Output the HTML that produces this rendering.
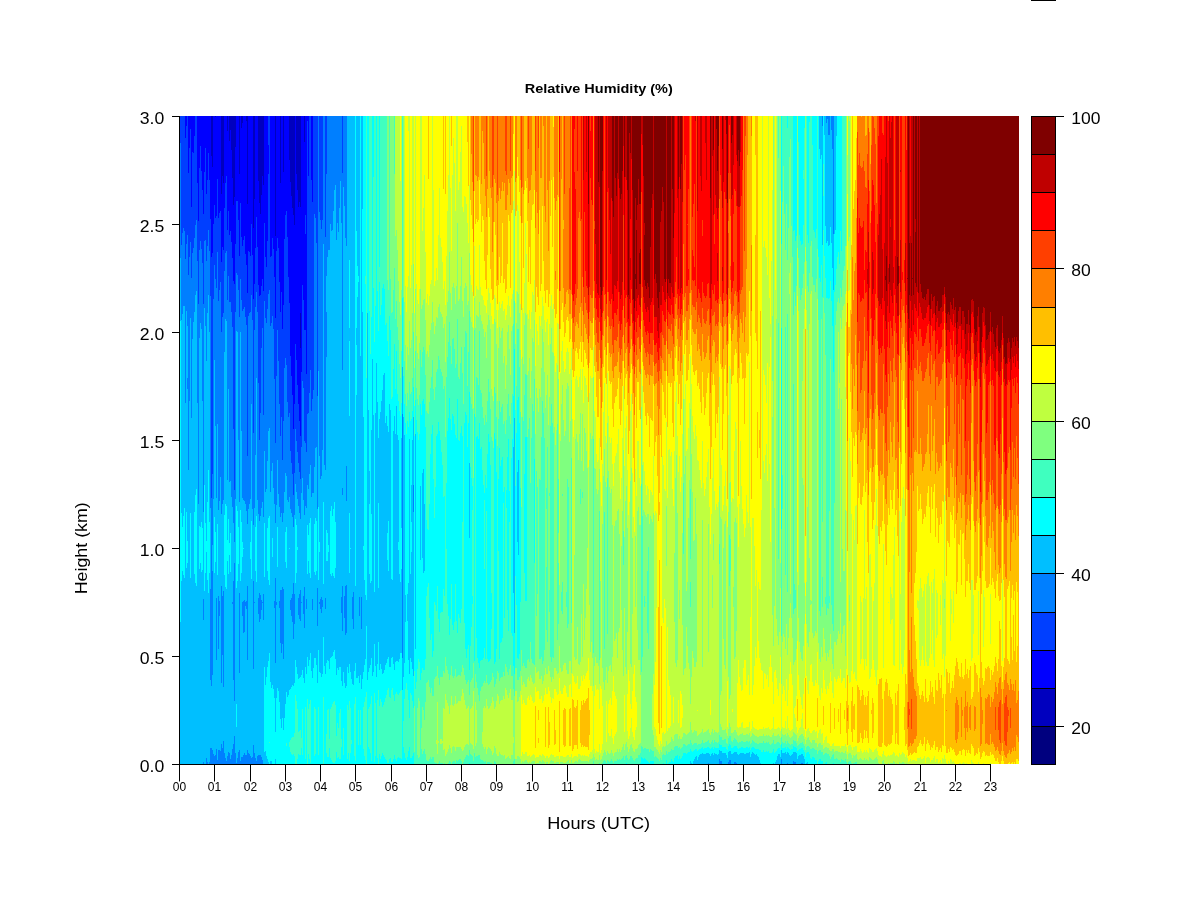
<!DOCTYPE html>
<html><head><meta charset="utf-8"><title>Relative Humidity (%)</title>
<style>
html,body{margin:0;padding:0;background:#fff;}
svg{display:block;}
text{font-family:"Liberation Sans",Arial,Helvetica,sans-serif;fill:#000;}
</style></head><body>
<svg width="1200" height="900" viewBox="0 0 1200 900">
<rect width="1200" height="900" fill="#fff"/>
<g fill="none" stroke-width="1" shape-rendering="crispEdges">
<path stroke="#0000BF" d="M211.5 116V156M212.5 116V167M215.5 116V117M221.5 116V194M222.5 116V176M223.5 116V183M227.5 116V131M229.5 116V141M230.5 116V130M231.5 116V150M232.5 116V178M233.5 116V205M234.5 116V197M235.5 116V147M239.5 116V174M241.5 116V128M242.5 116V123M246.5 116V121M247.5 116V204M253.5 116V228M254.5 116V199M258.5 116V181M259.5 116V203M260.5 116V214M261.5 116V195M262.5 116V176M263.5 116V185M275.5 116V236M280.5 116V183M283.5 116V172M289.5 116V160M290.5 116V182M291.5 116V196M292.5 116V208M293.5 116V215M294.5 116V225M296.5 116V174M297.5 116V190M298.5 116V207M299.5 116V202M300.5 116V207M300.5 313V348M304.5 116V142"/>
<path stroke="#0000FF" d="M185.5 116V138M186.5 116V126M188.5 116V173M189.5 116V148M190.5 116V129M191.5 116V207M192.5 116V152M193.5 116V153M194.5 116V136M197.5 116V183M198.5 116V221M199.5 116V168M200.5 116V146M201.5 116V171M202.5 116V190M203.5 116V214M204.5 116V172M205.5 116V148M206.5 116V194M207.5 116V180M208.5 116V153M209.5 116V180M210.5 116V219M211.5 156V257M212.5 167V253M213.5 116V224M214.5 116V205M215.5 117V218M216.5 116V216M217.5 116V179M218.5 116V218M219.5 116V213M220.5 116V211M221.5 194V262M222.5 176V247M223.5 183V250M224.5 116V208M225.5 116V183M226.5 116V176M227.5 131V230M228.5 116V211M229.5 141V235M230.5 130V231M231.5 150V242M232.5 178V258M233.5 205V281M234.5 197V284M235.5 147V244M236.5 116V201M237.5 116V201M238.5 116V220M239.5 174V256M240.5 116V203M241.5 128V237M242.5 123V246M243.5 116V240M244.5 116V236M245.5 116V254M246.5 121V265M247.5 204V293M248.5 116V251M249.5 116V252M250.5 116V256M251.5 116V224M252.5 116V255M253.5 228V299M254.5 199V284M255.5 116V248M256.5 116V217M257.5 116V247M258.5 181V285M259.5 203V296M260.5 214V295M261.5 195V286M262.5 176V279M263.5 185V291M264.5 116V223M265.5 116V257M266.5 116V267M267.5 116V241M268.5 145V174M270.5 116V257M271.5 116V256M272.5 116V238M273.5 116V249M274.5 116V277M275.5 236V318M276.5 116V251M277.5 116V238M278.5 116V248M279.5 116V282M280.5 183V312M281.5 116V292M282.5 116V329M283.5 172V305M284.5 116V239M285.5 116V215M286.5 116V211M287.5 116V237M288.5 116V277M289.5 160V303M290.5 182V356M291.5 196V376M292.5 208V395M293.5 215V429M294.5 225V404M295.5 116V344M296.5 174V360M297.5 190V385M298.5 207V404M299.5 202V421M300.5 207V313M300.5 348V436M301.5 116V372M302.5 116V285M303.5 116V300M304.5 142V330M305.5 116V215M305.5 234V330M306.5 116V374M307.5 116V121M308.5 116V176M311.5 116V180M312.5 116V202"/>
<path stroke="#003FFF" d="M180.5 116V143M181.5 116V245M182.5 116V233M183.5 116V228M184.5 116V231M185.5 138V259M186.5 126V244M187.5 116V235M188.5 173V275M189.5 148V257M190.5 129V242M191.5 207V278M192.5 152V253M193.5 153V248M194.5 136V238M195.5 116V225M196.5 116V220M197.5 183V261M198.5 221V304M199.5 168V250M200.5 146V241M201.5 171V249M202.5 190V263M203.5 214V304M204.5 172V241M205.5 148V240M206.5 194V261M207.5 180V246M208.5 153V230M209.5 180V251M210.5 219V296M211.5 257V498M212.5 253V474M213.5 224V299M214.5 205V265M215.5 218V279M216.5 216V288M217.5 179V252M218.5 218V301M219.5 213V290M220.5 211V282M221.5 262V332M222.5 247V317M223.5 250V313M224.5 208V271M225.5 183V253M226.5 176V251M227.5 230V300M228.5 211V276M229.5 235V302M230.5 231V302M231.5 242V312M232.5 258V327M233.5 281V429M234.5 284V490M235.5 244V312M236.5 201V273M237.5 201V275M238.5 220V290M239.5 256V317M240.5 203V279M241.5 237V300M242.5 246V311M243.5 240V309M244.5 236V307M245.5 254V317M246.5 265V325M247.5 293V456M248.5 251V316M249.5 252V313M250.5 256V312M251.5 224V295M252.5 255V320M253.5 299V433M254.5 284V330M255.5 248V307M256.5 217V292M257.5 247V312M258.5 285V383M259.5 296V440M260.5 295V413M261.5 286V348M262.5 279V328M263.5 291V415M264.5 223V301M265.5 257V318M266.5 267V323M267.5 241V309M268.5 116V145M268.5 174V294M269.5 116V290M270.5 257V326M271.5 256V323M272.5 238V316M273.5 249V329M274.5 277V379M275.5 318V443M276.5 251V376M277.5 238V330M278.5 248V361M279.5 282V404M280.5 312V436M281.5 292V417M282.5 329V460M283.5 305V421M284.5 239V368M285.5 215V358M286.5 211V365M287.5 237V402M288.5 277V417M289.5 303V413M290.5 356V451M291.5 376V463M292.5 395V474M293.5 429V495M294.5 404V473M295.5 344V429M296.5 360V441M297.5 385V452M298.5 404V463M299.5 421V472M300.5 436V479M301.5 372V447M302.5 285V381M303.5 300V388M304.5 330V441M305.5 215V234M305.5 330V443M306.5 374V452M307.5 121V414M308.5 176V413M309.5 116V393M310.5 116V370M311.5 180V411M312.5 202V399M313.5 116V390M314.5 116V214M315.5 116V218M316.5 116V243M317.5 116V396M319.5 116V212M320.5 116V220M321.5 116V229M322.5 116V220M325.5 116V237M326.5 116V174M342.5 116V173"/>
<path stroke="#007FFF" d="M180.5 143V258M181.5 245V320M182.5 233V314M183.5 228V306M184.5 231V306M185.5 259V403M186.5 244V311M187.5 235V326M187.5 378V389M188.5 275V470M189.5 257V401M190.5 242V318M191.5 278V418M192.5 253V339M193.5 248V322M194.5 238V312M195.5 225V295M196.5 220V291M197.5 261V403M198.5 304V504M199.5 250V338M200.5 241V323M201.5 249V329M202.5 263V401M203.5 304V512M203.5 599V620M203.5 762V764M204.5 241V308M205.5 240V326M206.5 261V361M206.5 758V764M207.5 246V313M207.5 762V764M208.5 230V295M209.5 251V332M209.5 762V764M210.5 296V508M210.5 589V680M210.5 748V764M211.5 498V686M211.5 748V764M212.5 474V545M212.5 571V675M212.5 750V764M213.5 299V499M213.5 754V764M214.5 265V360M214.5 756V764M215.5 279V426M215.5 755V764M216.5 288V498M216.5 598V660M216.5 749V764M217.5 252V424M217.5 760V764M218.5 301V510M218.5 596V649M218.5 750V764M219.5 290V501M219.5 601V616M219.5 750V764M220.5 282V477M220.5 751V764M221.5 332V514M221.5 586V683M221.5 744V764M222.5 317V504M222.5 596V655M222.5 748V764M223.5 313V500M223.5 591V687M223.5 741V764M224.5 271V352M224.5 753V764M225.5 253V319M225.5 758V764M226.5 251V321M226.5 761V764M227.5 300V480M227.5 756V764M228.5 276V389M228.5 752V764M229.5 302V482M229.5 753V764M230.5 302V481M230.5 759V764M231.5 312V497M231.5 755V764M232.5 327V507M232.5 602V604M232.5 749V764M233.5 429V523M233.5 581V680M233.5 744V764M234.5 490V542M234.5 563V701M234.5 736V764M235.5 312V499M235.5 753V764M236.5 273V331M236.5 763V764M237.5 275V332M237.5 758V764M238.5 290V440M238.5 752V764M239.5 317V502M239.5 593V673M239.5 750V764M240.5 279V332M240.5 761V764M241.5 300V431M241.5 757V764M242.5 311V498M242.5 602V616M242.5 757V764M243.5 309V500M243.5 601V633M243.5 755V764M244.5 307V501M244.5 600V632M244.5 753V764M245.5 317V504M245.5 602V606M245.5 755V764M246.5 325V511M246.5 601V609M246.5 755V764M247.5 456V524M247.5 586V660M247.5 750V764M248.5 316V509M248.5 753V764M249.5 313V504M249.5 754V764M250.5 312V499M250.5 756V764M251.5 295V404M251.5 758V764M252.5 320V509M252.5 757V764M253.5 433V525M253.5 581V669M253.5 745V764M254.5 330V508M254.5 602V603M254.5 753V764M255.5 307V455M255.5 758V764M256.5 292V378M256.5 761V764M257.5 312V500M257.5 756V764M258.5 383V514M258.5 598V614M258.5 755V764M259.5 440V521M259.5 593V622M259.5 755V764M260.5 413V516M260.5 595V619M260.5 755V764M261.5 348V508M261.5 600V610M261.5 757V764M262.5 328V502M262.5 602V603M262.5 760V764M263.5 415V517M263.5 594V620M264.5 301V451M265.5 318V492M266.5 323V489M267.5 309V461M268.5 294V431M269.5 290V428M270.5 326V492M271.5 323V471M272.5 316V463M273.5 329V488M274.5 379V504M274.5 601V608M275.5 443V523M275.5 578V663M276.5 376V505M276.5 602V605M277.5 330V460M278.5 361V494M279.5 404V507M279.5 601V608M280.5 436V517M280.5 590V643M281.5 417V513M281.5 590V653M282.5 460V522M282.5 587V644M283.5 421V513M283.5 589V659M284.5 368V492M285.5 358V473M286.5 365V476M287.5 402V500M288.5 417V502M289.5 413V497M290.5 451V509M290.5 600V610M291.5 463V513M291.5 598V616M292.5 474V517M292.5 594V622M293.5 495V527M293.5 583V639M294.5 473V515M294.5 594V624M295.5 429V484M296.5 441V492M297.5 452V499M298.5 463V506M298.5 598V615M299.5 472V513M299.5 594V619M300.5 479V519M300.5 590V621M301.5 447V493M301.5 602V603M302.5 381V478M303.5 388V500M303.5 596V614M304.5 441V515M304.5 587V628M305.5 443V506M306.5 452V508M306.5 599V609M307.5 414V485M308.5 413V489M309.5 393V474M310.5 370V465M311.5 411V497M312.5 399V493M312.5 599V610M313.5 390V493M314.5 214V467M315.5 218V448M316.5 243V447M317.5 396V509M317.5 588V626M318.5 116V371M319.5 212V456M319.5 602V604M320.5 220V479M320.5 599V609M321.5 229V476M321.5 597V613M322.5 220V450M322.5 600V607M323.5 116V244M324.5 116V465M325.5 237V470M325.5 598V609M326.5 174V276M326.5 312V357M327.5 116V257M328.5 116V250M329.5 116V250M330.5 116V224M331.5 116V231M332.5 116V230M333.5 116V211M334.5 116V190M335.5 116V185M336.5 116V240M337.5 116V223M338.5 116V232M339.5 116V208M340.5 116V181M341.5 116V223M341.5 597V613M342.5 173V370M342.5 488V495M342.5 586V631M343.5 116V187M344.5 116V206M344.5 596V618M345.5 116V238M345.5 586V635M346.5 116V246M346.5 466V501M346.5 585V633M352.5 597V619M353.5 592V629M359.5 597V616M361.5 597V629M402.5 414V658M413.5 485V512M708.5 763V764M719.5 759V764M720.5 761V764M721.5 761V764M728.5 762V764M729.5 760V764M730.5 760V764M734.5 762V764M735.5 762V764M736.5 763V764M781.5 759V764M787.5 763V764M793.5 761V764M794.5 762V764M795.5 762V764M801.5 763V764M802.5 763V764M822.5 116V126M826.5 116V123M827.5 116V119M828.5 116V135M829.5 116V135M831.5 116V130M832.5 116V149M833.5 116V234"/>
<path stroke="#00BFFF" d="M180.5 258V321M180.5 622V764M181.5 320V513M181.5 581V764M182.5 314V527M182.5 571V764M183.5 306V516M183.5 575V764M184.5 306V508M184.5 578V764M185.5 403V764M186.5 311V512M186.5 568V764M187.5 326V378M187.5 389V541M187.5 563V764M188.5 470V764M189.5 401V764M190.5 318V513M190.5 578V764M191.5 418V764M192.5 339V764M193.5 322V764M194.5 312V512M194.5 574V764M195.5 295V495M195.5 583V764M196.5 291V489M196.5 586V764M197.5 403V764M198.5 504V764M199.5 338V526M199.5 569V764M200.5 323V527M200.5 563V764M201.5 329V522M201.5 572V764M202.5 401V528M202.5 570V764M203.5 512V599M203.5 620V762M204.5 308V485M204.5 591V764M205.5 326V523M205.5 573V764M206.5 361V541M206.5 552V758M207.5 313V502M207.5 580V762M208.5 295V470M208.5 593V764M209.5 332V522M209.5 573V762M210.5 508V589M210.5 680V748M211.5 686V748M212.5 545V571M212.5 675V750M213.5 499V754M214.5 360V517M214.5 573V756M215.5 426V532M215.5 562V755M216.5 498V598M216.5 660V749M217.5 424V524M217.5 575V760M218.5 510V596M218.5 649V750M219.5 501V601M219.5 616V750M220.5 477V751M221.5 514V586M221.5 683V744M222.5 504V596M222.5 655V748M223.5 500V591M223.5 687V741M224.5 352V515M224.5 575V753M225.5 319V504M225.5 587V758M226.5 321V506M226.5 589V761M227.5 480V540M227.5 561V756M228.5 389V519M228.5 574V752M229.5 482V543M229.5 555V753M230.5 481V533M230.5 572V759M231.5 497V755M232.5 507V602M232.5 604V749M233.5 523V581M233.5 680V744M234.5 542V563M234.5 701V736M235.5 499V753M236.5 331V506M236.5 588V704M236.5 727V763M237.5 332V511M237.5 581V758M238.5 440V527M238.5 564V752M239.5 502V593M239.5 673V750M240.5 332V510M240.5 581V761M241.5 431V522M241.5 573V757M242.5 498V542M242.5 557V602M242.5 616V757M243.5 500V548M243.5 549V601M243.5 633V755M244.5 501V600M244.5 632V753M245.5 504V602M245.5 606V755M246.5 511V601M246.5 609V755M247.5 524V586M247.5 660V750M248.5 509V753M249.5 504V754M250.5 499V542M250.5 559V756M251.5 404V521M251.5 579V758M252.5 509V757M253.5 525V581M253.5 669V745M254.5 508V602M254.5 603V753M255.5 455V527M255.5 571V758M256.5 378V516M256.5 582V761M257.5 500V756M258.5 514V598M258.5 614V755M259.5 521V593M259.5 622V755M260.5 516V595M260.5 619V755M261.5 508V600M261.5 610V757M262.5 502V602M262.5 603V760M263.5 517V594M263.5 620V764M264.5 451V523M264.5 577V667M264.5 752V764M265.5 492V685M265.5 751V764M266.5 489V677M266.5 756V764M267.5 461V528M267.5 571V667M267.5 759V764M268.5 431V518M268.5 580V661M268.5 762V764M269.5 428V516M269.5 585V653M270.5 492V682M270.5 761V764M271.5 471V688M271.5 761V764M272.5 463V538M272.5 557V685M273.5 488V689M274.5 504V601M274.5 608V698M275.5 523V578M275.5 663V732M275.5 759V764M276.5 505V602M276.5 605V698M277.5 460V527M277.5 567V688M278.5 494V691M279.5 507V601M279.5 608V702M280.5 517V590M280.5 643V719M281.5 513V590M281.5 653V728M282.5 522V587M282.5 644V718M283.5 513V589M283.5 659V730M284.5 492V718M285.5 473V532M285.5 562V704M286.5 476V527M286.5 568V692M287.5 500V697M288.5 502V695M289.5 497V548M289.5 549V690M290.5 509V600M290.5 610V689M291.5 513V598M291.5 616V687M292.5 517V594M292.5 622V685M293.5 527V583M293.5 639V686M294.5 515V594M294.5 624V683M295.5 484V519M295.5 583V660M296.5 492V525M296.5 573V667M297.5 499V547M297.5 550V674M298.5 506V598M298.5 615V679M299.5 513V594M299.5 619V678M300.5 519V590M300.5 621V677M301.5 493V602M301.5 603V675M302.5 478V670M303.5 500V596M303.5 614V678M304.5 515V587M304.5 628V683M305.5 506V667M306.5 508V599M306.5 609V674M307.5 485V525M307.5 574V657M308.5 489V535M308.5 561V666M309.5 474V523M309.5 573V660M310.5 465V518M310.5 578V653M311.5 497V671M312.5 493V599M312.5 610V678M313.5 493V668M314.5 467V524M314.5 572V658M315.5 448V518M315.5 575V658M316.5 447V521M316.5 571V665M317.5 509V588M317.5 626V683M318.5 371V507M318.5 580V650M319.5 456V542M319.5 552V602M319.5 604V672M320.5 479V599M320.5 609V673M321.5 476V597M321.5 613V677M322.5 450V600M322.5 607V674M323.5 244V502M323.5 584V637M324.5 465V666M325.5 470V598M325.5 609V674M326.5 276V312M326.5 357V530M326.5 561V663M327.5 257V533M327.5 561V660M328.5 250V545M328.5 552V661M329.5 250V669M330.5 224V511M330.5 574V658M331.5 231V506M331.5 576V657M332.5 230V516M332.5 573V656M333.5 211V509M333.5 576V652M334.5 190V502M334.5 578V650M335.5 185V522M335.5 568V659M336.5 240V675M337.5 223V668M338.5 232V670M339.5 208V667M340.5 181V667M341.5 223V597M341.5 613V681M342.5 370V488M342.5 495V586M342.5 631V686M343.5 187V672M344.5 206V596M344.5 618V683M345.5 238V586M345.5 635V688M346.5 246V466M346.5 501V585M346.5 633V686M347.5 116V667M348.5 116V673M349.5 116V260M349.5 328V341M349.5 416V513M349.5 573V664M350.5 116V548M350.5 549V672M351.5 116V679M352.5 116V597M352.5 619V684M353.5 116V592M353.5 629V685M354.5 116V671M355.5 586V663M356.5 116V231M356.5 328V345M356.5 395V678M357.5 116V266M357.5 297V678M358.5 116V276M358.5 282V676M359.5 116V597M359.5 616V683M360.5 356V675M361.5 116V597M361.5 629V689M362.5 116V209M362.5 312V679M363.5 417V546M363.5 550V672M364.5 580V665M365.5 595V659M366.5 600V626M367.5 313V680M368.5 410V672M369.5 471V504M369.5 574V668M370.5 583V665M371.5 430V514M371.5 581V658M372.5 359V676M373.5 415V672M374.5 592V644M375.5 413V666M376.5 363V677M377.5 402V664M378.5 438V503M378.5 588V642M379.5 419V670M380.5 412V664M381.5 401V669M382.5 390V674M383.5 375V673M384.5 373V670M385.5 423V665M386.5 416V663M387.5 426V533M387.5 560V659M388.5 432V521M388.5 571V657M389.5 404V667M390.5 410V667M391.5 579V658M392.5 580V657M393.5 431V664M394.5 416V670M395.5 434V662M396.5 406V661M397.5 435V661M398.5 440V542M398.5 550V662M399.5 574V659M400.5 582V653M401.5 438V528M401.5 569V653M402.5 367V414M402.5 658V690M403.5 417V677M404.5 435V663M405.5 595V622M407.5 594V621M408.5 583V660M409.5 439V674M410.5 574V658M411.5 485V522M411.5 552V662M412.5 440V669M413.5 417V485M413.5 512V676M415.5 434V649M420.5 486V560M422.5 473V558M423.5 469V573M424.5 504V571M469.5 463V538M513.5 447V593M514.5 418V633M517.5 472V542M518.5 460V555M690.5 761V764M691.5 763V764M693.5 761V764M694.5 759V764M695.5 757V764M696.5 756V764M697.5 760V764M698.5 757V764M699.5 755V764M700.5 754V764M701.5 754V764M702.5 753V764M703.5 754V764M704.5 754V764M705.5 754V764M706.5 753V764M707.5 753V764M708.5 753V763M709.5 754V764M710.5 756V764M711.5 754V764M712.5 753V764M713.5 755V764M714.5 753V764M715.5 754V764M716.5 754V764M717.5 755V764M718.5 754V764M719.5 750V759M720.5 751V761M721.5 751V761M722.5 753V764M723.5 753V764M724.5 753V764M725.5 753V764M726.5 755V764M727.5 758V764M728.5 752V762M729.5 751V760M730.5 751V760M731.5 754V764M732.5 754V764M733.5 753V764M734.5 752V762M735.5 752V762M736.5 752V763M737.5 754V764M738.5 755V764M739.5 754V764M740.5 753V764M741.5 753V764M742.5 753V764M743.5 753V764M744.5 754V764M745.5 754V764M746.5 753V764M747.5 753V764M748.5 753V764M749.5 752V764M750.5 757V764M751.5 754V764M752.5 752V764M753.5 753V764M754.5 754V764M755.5 755V764M756.5 754V764M757.5 756V764M758.5 757V764M759.5 760V764M760.5 763V764M773.5 763V764M775.5 762V764M776.5 760V764M777.5 756V764M778.5 754V764M779.5 754V764M780.5 757V764M781.5 750V759M782.5 753V764M783.5 753V764M784.5 753V764M785.5 752V764M786.5 754V764M787.5 752V763M788.5 753V764M789.5 755V764M790.5 756V764M791.5 755V764M792.5 754V764M793.5 752V761M794.5 752V762M795.5 752V762M796.5 753V764M797.5 759V764M798.5 756V764M799.5 755V764M800.5 755V764M801.5 754V763M802.5 754V763M803.5 756V764M804.5 759V764M806.5 763V764M807.5 762V764M819.5 116V149M820.5 116V159M821.5 116V155M822.5 126V245M824.5 116V135M825.5 116V226M826.5 123V243M827.5 119V241M828.5 135V246M829.5 135V245M830.5 116V227M831.5 130V243M832.5 149V268M833.5 234V290M834.5 116V234M835.5 116V230M836.5 116V136"/>
<path stroke="#00FFFF" d="M180.5 321V622M181.5 513V581M182.5 527V571M183.5 516V575M184.5 508V578M186.5 512V568M187.5 541V563M190.5 513V578M194.5 512V574M195.5 495V583M196.5 489V586M199.5 526V569M200.5 527V563M201.5 522V572M202.5 528V570M204.5 485V591M205.5 523V573M206.5 541V552M207.5 502V580M208.5 470V593M209.5 522V573M214.5 517V573M215.5 532V562M217.5 524V575M224.5 515V575M225.5 504V587M226.5 506V589M227.5 540V561M228.5 519V574M229.5 543V555M230.5 533V572M236.5 506V588M236.5 704V727M237.5 511V581M238.5 527V564M240.5 510V581M241.5 522V573M242.5 542V557M243.5 548V549M250.5 542V559M251.5 521V579M255.5 527V571M256.5 516V582M264.5 523V577M264.5 667V752M265.5 685V751M266.5 677V756M267.5 528V571M267.5 667V759M268.5 518V580M268.5 661V762M269.5 516V585M269.5 653V742M269.5 743V764M270.5 682V761M271.5 688V761M272.5 538V557M272.5 685V764M273.5 689V764M274.5 698V764M275.5 732V759M276.5 698V764M277.5 527V567M277.5 688V764M278.5 691V764M279.5 702V764M280.5 719V764M281.5 728V764M282.5 718V764M283.5 730V764M284.5 718V764M285.5 532V562M285.5 704V764M286.5 527V568M286.5 692V743M286.5 746V764M287.5 697V764M288.5 695V764M289.5 548V549M289.5 690V742M289.5 747V764M290.5 689V740M290.5 752V764M291.5 687V738M291.5 754V764M292.5 685V737M292.5 755V764M293.5 686V737M293.5 754V764M294.5 683V733M294.5 756V764M295.5 519V583M295.5 660V695M296.5 525V573M296.5 667V701M297.5 547V550M297.5 674V709M297.5 759V764M298.5 679V732M298.5 754V764M299.5 678V731M299.5 755V764M300.5 677V730M300.5 755V764M301.5 675V738M301.5 748V764M302.5 670V709M302.5 755V764M303.5 678V764M304.5 683V764M305.5 667V707M305.5 759V764M306.5 674V764M307.5 525V574M307.5 657V699M308.5 535V561M308.5 666V709M308.5 754V764M309.5 523V573M309.5 660V704M309.5 759V764M310.5 518V578M310.5 653V700M310.5 763V764M311.5 671V764M312.5 678V764M313.5 668V764M314.5 524V572M314.5 658V707M314.5 756V764M315.5 518V575M315.5 658V709M315.5 754V764M316.5 521V571M316.5 665V764M317.5 683V764M318.5 507V580M318.5 650V707M318.5 755V764M319.5 542V552M319.5 672V764M320.5 673V764M321.5 677V764M322.5 674V764M323.5 502V584M323.5 637V697M324.5 666V764M325.5 674V764M326.5 530V561M326.5 663V734M326.5 753V764M327.5 533V561M327.5 660V710M327.5 757V764M328.5 545V552M328.5 661V709M328.5 757V764M329.5 669V739M329.5 748V764M330.5 511V574M330.5 658V709M330.5 758V764M331.5 506V576M331.5 657V707M331.5 760V764M332.5 516V573M332.5 656V704M332.5 762V764M333.5 509V576M333.5 652V702M333.5 763V764M334.5 502V578M334.5 650V701M334.5 763V764M335.5 522V568M335.5 659V705M335.5 761V764M336.5 675V736M336.5 752V764M337.5 668V723M337.5 758V764M338.5 670V728M338.5 757V764M339.5 667V713M339.5 759V764M340.5 667V709M340.5 759V764M341.5 681V739M341.5 747V764M342.5 686V764M343.5 672V728M343.5 755V764M344.5 683V764M345.5 688V764M346.5 686V764M347.5 667V705M347.5 759V764M348.5 673V710M348.5 753V764M349.5 260V328M349.5 341V416M349.5 513V573M349.5 664V701M349.5 761V764M350.5 548V549M350.5 672V708M350.5 753V764M351.5 679V740M351.5 744V764M352.5 684V764M353.5 685V764M354.5 671V704M354.5 756V764M355.5 116V586M355.5 663V697M355.5 761V764M356.5 231V328M356.5 345V395M356.5 678V764M357.5 266V297M357.5 678V764M358.5 276V282M358.5 676V710M358.5 745V764M359.5 683V764M360.5 116V356M360.5 675V710M360.5 745V764M361.5 689V764M362.5 209V312M362.5 679V764M363.5 116V417M363.5 546V550M363.5 672V707M363.5 749V764M364.5 116V580M364.5 665V702M364.5 756V764M365.5 116V276M365.5 284V595M365.5 659V697M365.5 760V764M366.5 378V600M366.5 626V692M367.5 116V313M367.5 680V764M368.5 116V410M368.5 672V709M368.5 747V764M369.5 311V471M369.5 504V574M369.5 668V707M369.5 749V764M370.5 354V583M370.5 665V704M370.5 753V764M371.5 317V430M371.5 514V581M371.5 658V696M371.5 761V764M372.5 116V359M372.5 676V764M373.5 116V177M373.5 288V415M373.5 672V764M374.5 342V592M374.5 644V693M374.5 762V764M375.5 306V413M375.5 666V703M375.5 756V764M376.5 116V363M376.5 677V764M377.5 291V402M377.5 664V700M377.5 758V764M378.5 331V438M378.5 503V588M378.5 642V690M379.5 116V267M379.5 282V419M379.5 670V706M379.5 754V764M380.5 315V412M380.5 664V699M380.5 759V764M381.5 305V401M381.5 669V702M381.5 756V764M382.5 288V390M382.5 674V707M382.5 753V764M383.5 284V375M383.5 673V705M383.5 755V764M384.5 289V373M384.5 670V702M384.5 757V764M385.5 325V423M385.5 665V698M385.5 759V764M386.5 323V416M386.5 663V695M386.5 760V764M387.5 341V426M387.5 533V560M387.5 659V690M387.5 763V764M388.5 356V432M388.5 521V571M388.5 657V688M388.5 763V764M389.5 316V404M389.5 667V697M389.5 759V764M390.5 330V410M390.5 667V698M390.5 758V764M391.5 399V579M391.5 658V690M391.5 762V764M392.5 397V580M392.5 657V688M392.5 762V764M393.5 369V431M393.5 664V695M393.5 759V764M394.5 344V416M394.5 670V701M394.5 755V764M395.5 389V434M395.5 662V694M395.5 759V764M396.5 351V406M396.5 661V692M396.5 761V764M397.5 394V435M397.5 661V694M397.5 758V764M398.5 401V440M398.5 542V550M398.5 662V695M398.5 757V764M399.5 411V574M399.5 659V693M399.5 758V764M400.5 416V582M400.5 653V691M400.5 758V764M401.5 403V438M401.5 528V569M401.5 653V690M401.5 759V764M402.5 298V367M402.5 690V764M403.5 376V417M403.5 677V721M403.5 747V764M404.5 404V435M404.5 663V699M404.5 753V764M405.5 423V595M405.5 622V689M405.5 758V764M406.5 434V683M406.5 760V764M407.5 421V594M407.5 621V690M407.5 757V764M408.5 427V583M408.5 660V700M408.5 751V764M409.5 412V439M409.5 674V718M409.5 747V764M410.5 421V574M410.5 658V693M410.5 758V764M411.5 419V485M411.5 522V552M411.5 662V695M411.5 758V764M412.5 411V440M412.5 669V701M412.5 756V764M413.5 387V417M413.5 676V708M413.5 753V764M414.5 436V671M415.5 400V434M415.5 649V689M416.5 420V682M417.5 432V669M418.5 440V659M419.5 434V662M420.5 404V486M420.5 560V680M421.5 415V673M422.5 401V473M422.5 558V668M423.5 399V469M423.5 573V670M424.5 404V504M424.5 571V670M425.5 427V659M426.5 520V596M427.5 529V587M428.5 530V583M429.5 504V618M430.5 454V640M431.5 434V634M432.5 425V657M433.5 479V651M434.5 518V602M435.5 487V605M436.5 436V611M437.5 434V586M438.5 422V619M439.5 431V632M440.5 440V613M441.5 452V612M442.5 465V612M443.5 497V589M444.5 496V596M446.5 483V549M447.5 431V604M448.5 418V616M449.5 398V635M450.5 419V619M451.5 430V584M452.5 414V625M453.5 416V630M454.5 424V622M455.5 435V584M456.5 438V621M457.5 399V633M458.5 440V614M459.5 441V618M460.5 433V623M461.5 426V609M462.5 436V522M464.5 423V623M465.5 412V649M466.5 415V658M467.5 447V649M468.5 423V645M469.5 392V463M469.5 538V670M469.5 763V764M470.5 467V646M471.5 478V627M472.5 486V510M472.5 596V604M474.5 414V661M476.5 437V638M477.5 436V658M478.5 439V663M479.5 423V668M480.5 449V661M481.5 447V660M482.5 470V660M483.5 485V658M484.5 493V500M484.5 569V648M485.5 475V659M486.5 488V511M487.5 454V659M488.5 434V662M489.5 442V661M490.5 465V659M491.5 593V629M494.5 433V664M495.5 439V662M496.5 472V649M498.5 479V551M499.5 448V659M500.5 466V643M501.5 460V642M502.5 457V638M503.5 492V503M504.5 487V618M506.5 490V508M507.5 457V610M508.5 439V631M509.5 491V522M511.5 458V633M512.5 439V636M513.5 396V447M513.5 593V666M514.5 349V418M514.5 633V674M515.5 486V576M516.5 433V605M517.5 400V472M517.5 542V658M518.5 397V460M518.5 555V659M519.5 423V654M520.5 488V602M524.5 474V573M525.5 437V601M526.5 437V601M534.5 459V563M626.5 763V764M640.5 763V764M641.5 757V764M642.5 758V764M643.5 759V764M644.5 758V764M645.5 759V764M646.5 760V764M647.5 761V764M648.5 762V764M649.5 763V764M650.5 761V764M651.5 761V764M652.5 761V764M653.5 761V764M663.5 763V764M666.5 760V764M668.5 763V764M669.5 762V764M670.5 762V764M671.5 759V764M672.5 761V764M673.5 762V764M674.5 758V764M675.5 756V764M676.5 756V764M677.5 755V764M678.5 759V764M679.5 756V764M680.5 759V764M681.5 758V764M682.5 756V764M683.5 753V764M684.5 753V764M685.5 753V764M686.5 754V764M687.5 753V764M688.5 752V764M689.5 752V764M690.5 749V761M691.5 751V763M692.5 752V764M693.5 751V761M694.5 750V759M695.5 749V757M696.5 749V756M697.5 751V760M698.5 750V757M699.5 749V755M700.5 749V754M701.5 748V754M702.5 747V753M703.5 749V754M704.5 748V754M705.5 748V754M706.5 748V753M707.5 747V753M708.5 747V753M709.5 748V754M710.5 749V756M711.5 748V754M712.5 747V753M713.5 749V755M714.5 747V753M715.5 748V754M716.5 748V754M717.5 748V755M718.5 748V754M719.5 744V750M720.5 745V751M721.5 745V751M722.5 747V753M723.5 747V753M724.5 747V753M725.5 747V753M726.5 749V755M727.5 750V758M728.5 746V752M729.5 744V751M730.5 745V751M731.5 748V754M732.5 748V754M733.5 747V753M734.5 746V752M735.5 746V752M736.5 746V752M737.5 748V754M738.5 749V755M739.5 748V754M740.5 748V753M741.5 747V753M742.5 747V753M743.5 748V753M744.5 748V754M745.5 748V754M746.5 747V753M747.5 747V753M748.5 748V753M749.5 747V752M750.5 750V757M751.5 748V754M752.5 747V752M753.5 747V753M754.5 748V754M755.5 749V755M756.5 749V754M757.5 749V756M758.5 749V757M759.5 750V760M760.5 750V763M761.5 752V764M762.5 752V764M763.5 750V764M764.5 752V764M765.5 752V764M766.5 751V764M767.5 752V764M768.5 751V764M769.5 753V764M770.5 753V764M771.5 753V764M772.5 752V764M773.5 749V763M774.5 753V764M775.5 752V762M776.5 751V760M777.5 749V756M778.5 748V754M779.5 748V754M780.5 750V757M781.5 116V244M781.5 328V529M781.5 744V750M782.5 748V753M783.5 748V753M784.5 748V753M785.5 747V752M786.5 749V754M787.5 116V128M787.5 747V752M788.5 748V753M789.5 749V755M790.5 750V756M791.5 749V755M792.5 749V754M793.5 116V231M793.5 746V752M794.5 116V230M794.5 747V752M795.5 116V241M795.5 747V752M796.5 116V236M796.5 748V753M797.5 751V759M798.5 116V142M798.5 750V756M799.5 116V235M799.5 749V755M800.5 116V241M800.5 749V755M801.5 116V245M801.5 748V754M802.5 116V244M802.5 748V754M803.5 116V170M803.5 179V225M803.5 750V756M804.5 116V128M804.5 752V759M805.5 757V764M806.5 753V763M807.5 116V235M807.5 752V762M808.5 116V243M808.5 752V764M809.5 116V122M809.5 754V764M810.5 758V764M811.5 759V764M812.5 116V145M812.5 757V764M813.5 116V230M813.5 757V764M814.5 116V232M814.5 758V764M815.5 116V238M815.5 760V764M816.5 116V229M816.5 760V764M818.5 116V257M818.5 761V764M819.5 149V278M819.5 759V764M820.5 159V282M820.5 759V764M821.5 155V265M821.5 761V764M822.5 245V297M822.5 761V764M823.5 116V164M823.5 196V230M824.5 135V256M825.5 226V278M825.5 763V764M826.5 243V298M826.5 762V764M827.5 241V298M828.5 246V299M829.5 245V298M830.5 227V281M831.5 243V301M832.5 268V326M833.5 290V372M833.5 763V764M834.5 234V292M835.5 230V285M836.5 136V269M837.5 116V257M838.5 116V252M839.5 116V264M840.5 116V231M841.5 116V251"/>
<path stroke="#3FFFBF" d="M269.5 742V743M286.5 743V746M289.5 742V747M290.5 740V752M291.5 738V754M292.5 737V755M293.5 737V754M294.5 733V756M295.5 695V764M296.5 701V764M297.5 709V759M298.5 732V754M299.5 731V755M300.5 730V755M301.5 738V748M302.5 709V755M305.5 707V759M307.5 699V764M308.5 709V754M309.5 704V759M310.5 700V763M314.5 707V756M315.5 709V754M318.5 707V755M323.5 697V764M326.5 734V753M327.5 710V757M328.5 709V757M329.5 739V748M330.5 709V758M331.5 707V760M332.5 704V762M333.5 702V763M334.5 701V763M335.5 705V761M336.5 736V752M337.5 723V758M338.5 728V757M339.5 713V759M340.5 709V759M341.5 739V747M343.5 728V755M347.5 705V759M348.5 710V753M349.5 701V761M350.5 708V753M351.5 740V744M354.5 704V756M355.5 697V761M358.5 710V745M360.5 710V745M363.5 707V749M364.5 702V756M365.5 276V284M365.5 697V760M366.5 116V378M366.5 692V764M368.5 709V747M369.5 116V311M369.5 707V749M370.5 116V354M370.5 704V753M371.5 116V317M371.5 696V761M373.5 177V288M374.5 116V342M374.5 693V762M375.5 116V306M375.5 703V756M377.5 116V291M377.5 700V758M378.5 116V331M378.5 690V764M379.5 267V282M379.5 706V754M380.5 116V315M380.5 699V759M381.5 116V305M381.5 702V756M382.5 116V288M382.5 707V753M383.5 116V284M383.5 705V755M384.5 116V289M384.5 702V757M385.5 116V325M385.5 698V759M386.5 116V323M386.5 695V760M387.5 280V341M387.5 690V763M388.5 290V356M388.5 688V763M389.5 116V316M389.5 697V759M390.5 279V330M390.5 698V758M391.5 313V399M391.5 690V762M392.5 312V397M392.5 688V762M393.5 290V369M393.5 695V759M394.5 116V174M394.5 268V344M394.5 701V755M395.5 319V389M395.5 694V759M396.5 301V351M396.5 692V761M397.5 327V394M397.5 694V758M398.5 340V401M398.5 695V757M399.5 364V411M399.5 693V758M400.5 378V416M400.5 691V758M401.5 351V403M401.5 690V759M402.5 116V298M403.5 297V376M403.5 721V747M404.5 361V404M404.5 699V753M405.5 394V423M405.5 689V758M406.5 406V434M406.5 683V760M407.5 393V421M407.5 690V757M408.5 400V427M408.5 700V751M409.5 382V412M409.5 718V747M410.5 394V421M410.5 693V758M411.5 392V419M411.5 695V758M412.5 378V411M412.5 701V756M413.5 332V387M413.5 708V753M414.5 406V436M414.5 671V706M414.5 752V764M415.5 351V400M415.5 689V764M416.5 388V420M416.5 682V764M417.5 399V432M417.5 669V708M417.5 755V764M418.5 405V440M418.5 659V698M418.5 758V764M419.5 395V434M419.5 662V701M419.5 757V764M420.5 350V404M420.5 680V764M421.5 367V415M421.5 673V728M421.5 749V764M422.5 352V401M422.5 668V707M422.5 754V764M423.5 347V399M423.5 670V710M423.5 751V764M424.5 350V404M424.5 670V720M424.5 749V764M425.5 375V427M425.5 659V702M425.5 754V764M426.5 411V520M426.5 596V683M426.5 760V764M427.5 413V529M427.5 587V682M427.5 761V764M428.5 414V530M428.5 583V680M428.5 761V764M429.5 402V504M429.5 618V687M429.5 759V764M430.5 388V454M430.5 640V693M430.5 757V764M431.5 377V434M431.5 634V688M431.5 759V764M432.5 360V425M432.5 657V696M432.5 757V764M433.5 389V479M433.5 651V696M433.5 757V764M434.5 400V518M434.5 602V679M434.5 762V764M435.5 387V487M435.5 605V677M435.5 763V764M436.5 372V436M436.5 611V676M436.5 763V764M437.5 369V434M437.5 586V666M438.5 356V422M438.5 619V678M438.5 763V764M439.5 360V431M439.5 632V685M439.5 761V764M440.5 369V440M440.5 613V677M440.5 763V764M441.5 372V452M441.5 612V677M441.5 763V764M442.5 376V465M442.5 612V677M442.5 763V764M443.5 389V497M443.5 589V671M444.5 386V496M444.5 596V673M444.5 763V764M445.5 437V657M446.5 377V483M446.5 549V666M447.5 357V431M447.5 604V670M448.5 342V418M448.5 616V674M448.5 763V764M449.5 322V398M449.5 635V680M449.5 761V764M450.5 346V419M450.5 619V675M450.5 762V764M451.5 364V430M451.5 584V666M452.5 339V414M452.5 625V676M452.5 762V764M453.5 338V416M453.5 630V678M453.5 761V764M454.5 349V424M454.5 622V676M454.5 761V764M455.5 368V435M455.5 584V669M455.5 763V764M456.5 364V438M456.5 621V677M456.5 760V764M457.5 319V399M457.5 633V676M457.5 761V764M458.5 377V440M458.5 614V675M458.5 760V764M459.5 379V441M459.5 618V675M459.5 759V764M460.5 363V433M460.5 623V676M460.5 759V764M461.5 347V426M461.5 609V672M461.5 761V764M462.5 373V436M462.5 522V665M463.5 404V668M463.5 762V764M464.5 347V423M464.5 623V675M464.5 759V764M465.5 331V412M465.5 649V680M465.5 757V764M466.5 333V415M466.5 658V684M466.5 755V764M467.5 386V447M467.5 649V682M467.5 755V764M468.5 352V423M468.5 645V680M468.5 756V764M469.5 311V392M469.5 670V695M469.5 750V763M470.5 397V467M470.5 646V682M470.5 754V764M471.5 404V478M471.5 627V680M471.5 755V764M472.5 409V486M472.5 510V596M472.5 604V678M472.5 756V764M473.5 478V663M473.5 761V764M474.5 330V414M474.5 661V688M474.5 753V764M475.5 417V674M475.5 757V764M476.5 377V437M476.5 638V682M476.5 756V764M477.5 378V436M477.5 658V688M477.5 756V764M478.5 385V439M478.5 663V695M478.5 755V764M479.5 331V423M479.5 668V701M479.5 755V764M480.5 390V449M480.5 661V691M480.5 759V764M481.5 393V447M481.5 660V687M481.5 760V764M482.5 407V470M482.5 660V686M482.5 760V764M483.5 418V485M483.5 658V683M483.5 761V764M484.5 425V493M484.5 500V569M484.5 648V681M484.5 762V764M485.5 415V475M485.5 659V683M485.5 761V764M486.5 422V488M486.5 511V675M487.5 401V454M487.5 659V683M487.5 762V764M488.5 379V434M488.5 662V685M488.5 762V764M489.5 392V442M489.5 661V684M489.5 762V764M490.5 409V465M490.5 659V682M490.5 763V764M491.5 437V593M491.5 629V680M491.5 763V764M492.5 441V673M493.5 448V677M494.5 387V433M494.5 664V687M494.5 761V764M495.5 393V439M495.5 662V684M495.5 762V764M496.5 417V472M496.5 649V679M497.5 446V671M498.5 419V479M498.5 551V673M499.5 401V448M499.5 659V681M500.5 412V466M500.5 643V678M501.5 407V460M501.5 642V677M502.5 404V457M502.5 638V677M503.5 424V492M503.5 503V672M504.5 421V487M504.5 618V676M505.5 434V664M506.5 420V490M506.5 508V667M507.5 404V457M507.5 610V672M508.5 394V439M508.5 631V675M509.5 416V491M509.5 522V669M510.5 424V665M511.5 403V458M511.5 633V676M512.5 394V439M512.5 636V676M513.5 324V396M513.5 666V689M513.5 761V764M514.5 301V349M514.5 674V696M514.5 759V764M515.5 410V486M515.5 576V668M516.5 386V433M516.5 605V668M517.5 329V400M517.5 658V680M518.5 329V397M518.5 659V680M519.5 367V423M519.5 654V677M520.5 412V488M520.5 602V671M521.5 507V650M522.5 417V666M523.5 421V663M524.5 395V474M524.5 573V666M525.5 374V437M525.5 601V668M526.5 375V437M526.5 601V668M527.5 437V660M528.5 429V659M529.5 418V662M530.5 483V642M531.5 438V659M532.5 404V663M533.5 411V664M534.5 379V459M534.5 563V665M536.5 471V616M537.5 487V594M539.5 479V659M540.5 480V659M541.5 437V657M542.5 401V664M543.5 413V661M544.5 438V650M546.5 488V509M546.5 567V630M547.5 447V642M549.5 493V496M549.5 590V612M550.5 426V657M551.5 404V662M552.5 423V657M553.5 433V658M557.5 424V640M558.5 479V533M558.5 563V624M561.5 592V611M562.5 494V496M562.5 582V614M566.5 592V607M567.5 479V628M568.5 487V624M571.5 458V623M580.5 489V504M582.5 492V498M593.5 439V653M593.5 761V764M599.5 511V660M599.5 763V764M602.5 763V764M603.5 761V764M604.5 512V649M604.5 760V764M605.5 761V764M606.5 763V764M607.5 478V634M607.5 760V764M608.5 761V764M609.5 762V764M610.5 761V764M611.5 759V764M612.5 761V764M613.5 763V764M614.5 761V764M615.5 761V764M616.5 761V764M617.5 759V764M618.5 760V764M619.5 759V764M620.5 760V764M621.5 759V764M622.5 758V764M623.5 531V565M623.5 756V764M624.5 760V764M625.5 756V764M626.5 755V763M627.5 758V764M628.5 760V764M629.5 759V764M630.5 756V764M631.5 756V764M632.5 758V764M633.5 760V764M634.5 761V764M635.5 759V764M636.5 758V764M637.5 758V764M638.5 755V764M639.5 755V764M640.5 753V763M641.5 484V672M641.5 746V757M642.5 516V657M642.5 747V758M643.5 749V759M644.5 596V607M644.5 748V758M645.5 602V603M645.5 748V759M646.5 749V760M647.5 571V633M647.5 749V761M648.5 547V649M648.5 749V762M649.5 752V763M650.5 749V761M651.5 750V761M652.5 751V761M653.5 751V761M654.5 757V764M655.5 756V764M656.5 757V764M657.5 758V764M658.5 759V764M659.5 761V764M660.5 758V764M661.5 760V764M662.5 755V764M663.5 754V763M664.5 755V764M665.5 755V764M666.5 751V760M667.5 754V764M668.5 752V763M669.5 752V762M670.5 751V762M671.5 749V759M672.5 750V761M673.5 750V762M674.5 747V758M675.5 746V756M676.5 746V756M677.5 746V755M678.5 748V759M679.5 747V756M680.5 749V759M681.5 748V758M682.5 747V756M683.5 483V554M683.5 744V753M684.5 744V753M685.5 745V753M686.5 746V754M687.5 745V753M688.5 744V752M689.5 744V752M690.5 489V559M690.5 582V607M690.5 740V749M691.5 743V751M692.5 745V752M693.5 744V751M694.5 743V750M695.5 743V749M696.5 743V749M697.5 745V751M698.5 744V750M699.5 744V749M700.5 744V749M701.5 743V748M702.5 740V747M703.5 743V749M704.5 743V748M705.5 742V748M706.5 742V748M707.5 741V747M708.5 740V747M709.5 743V748M710.5 744V749M711.5 742V748M712.5 740V747M713.5 743V749M714.5 740V747M715.5 742V748M716.5 742V748M717.5 743V748M718.5 742V748M719.5 544V564M719.5 735V744M720.5 737V745M721.5 737V745M722.5 740V747M723.5 740V747M724.5 739V747M725.5 739V747M726.5 743V749M727.5 744V750M728.5 738V746M729.5 535V586M729.5 736V744M730.5 539V571M730.5 736V745M731.5 741V748M732.5 742V748M733.5 740V747M734.5 738V746M735.5 739V746M736.5 740V746M737.5 742V748M738.5 743V749M739.5 742V748M740.5 742V748M741.5 741V747M742.5 741V747M743.5 742V748M744.5 742V748M745.5 742V748M746.5 741V747M747.5 741V747M748.5 742V748M749.5 741V747M750.5 744V750M751.5 743V748M752.5 740V747M753.5 741V747M754.5 742V748M755.5 743V749M756.5 743V749M757.5 744V749M758.5 744V749M759.5 743V750M760.5 743V750M761.5 743V752M762.5 743V752M763.5 741V750M764.5 743V752M765.5 743V752M766.5 742V751M767.5 743V752M768.5 742V751M769.5 744V753M770.5 745V753M771.5 744V753M772.5 743V752M773.5 740V749M774.5 744V753M775.5 744V752M776.5 743V751M777.5 742V749M778.5 116V158M778.5 323V559M778.5 742V748M779.5 743V748M780.5 745V750M781.5 244V328M781.5 529V636M781.5 737V744M782.5 116V202M782.5 475V509M782.5 742V748M783.5 116V166M783.5 743V748M784.5 116V214M784.5 743V748M785.5 116V250M785.5 327V575M785.5 741V747M786.5 116V204M786.5 744V749M787.5 128V260M787.5 314V592M787.5 741V747M788.5 116V228M788.5 743V748M789.5 116V157M789.5 744V749M790.5 116V139M790.5 745V750M791.5 116V226M791.5 744V749M792.5 116V257M792.5 744V749M793.5 231V315M793.5 384V614M793.5 740V746M794.5 230V292M794.5 584V609M794.5 741V747M795.5 241V306M795.5 590V608M795.5 741V747M796.5 236V286M796.5 743V748M797.5 746V751M798.5 142V258M798.5 745V750M799.5 235V288M799.5 744V749M800.5 241V300M800.5 743V749M801.5 245V295M801.5 743V748M802.5 244V288M802.5 742V748M803.5 170V179M803.5 225V274M803.5 744V750M804.5 128V262M804.5 746V752M805.5 750V757M806.5 116V261M806.5 747V753M807.5 235V286M807.5 746V752M808.5 243V292M808.5 746V752M809.5 122V273M809.5 747V754M810.5 116V246M810.5 749V758M811.5 116V241M811.5 749V759M812.5 145V277M812.5 748V757M813.5 230V285M813.5 748V757M814.5 232V285M814.5 749V758M815.5 238V292M815.5 750V760M816.5 229V279M816.5 750V760M817.5 116V249M817.5 754V764M818.5 257V320M818.5 751V761M819.5 278V611M819.5 750V759M820.5 282V616M820.5 750V759M821.5 265V319M821.5 752V761M822.5 297V522M822.5 577V607M822.5 752V761M823.5 164V196M823.5 230V298M823.5 755V764M824.5 256V313M824.5 754V764M825.5 278V355M825.5 597V604M825.5 753V763M826.5 298V615M826.5 753V762M827.5 298V608M827.5 754V764M828.5 299V609M828.5 754V764M829.5 298V511M829.5 596V603M829.5 756V764M830.5 281V359M830.5 759V764M831.5 301V605M831.5 757V764M832.5 326V624M832.5 755V764M833.5 372V631M833.5 754V763M834.5 292V503M834.5 759V764M835.5 285V325M835.5 759V764M836.5 269V311M836.5 758V764M837.5 257V302M837.5 759V764M838.5 252V298M838.5 760V764M839.5 264V303M839.5 760V764M840.5 231V288M840.5 762V764M841.5 251V297M841.5 759V764M842.5 116V280M842.5 760V764M843.5 116V271M843.5 760V764M844.5 116V266M844.5 761V764M845.5 116V246M845.5 759V764M846.5 762V764M848.5 762V764M849.5 761V764M850.5 761V764M851.5 763V764M853.5 763V764M854.5 763V764M855.5 762V764M856.5 762V764"/>
<path stroke="#7FFF7F" d="M387.5 116V280M388.5 116V290M390.5 116V279M391.5 116V313M392.5 116V312M393.5 116V290M394.5 174V268M395.5 236V319M396.5 230V301M397.5 250V327M398.5 281V340M399.5 302V364M400.5 315V378M401.5 290V351M403.5 116V297M404.5 302V361M405.5 345V394M406.5 370V406M407.5 347V393M408.5 355V400M409.5 321V382M410.5 348V394M411.5 340V392M412.5 313V378M413.5 264V332M414.5 368V406M414.5 706V752M415.5 289V351M416.5 336V388M417.5 353V399M417.5 708V755M418.5 359V405M418.5 698V758M419.5 343V395M419.5 701V757M420.5 289V350M421.5 309V367M421.5 728V749M422.5 305V352M422.5 707V754M423.5 300V347M423.5 710V751M424.5 299V350M424.5 720V749M425.5 320V375M425.5 702V754M426.5 354V411M426.5 683V760M427.5 351V413M427.5 682V761M428.5 357V414M428.5 680V761M429.5 345V402M429.5 687V759M430.5 330V388M430.5 693V757M431.5 323V377M431.5 688V759M432.5 302V360M432.5 696V757M433.5 322V389M433.5 696V757M434.5 334V400M434.5 679V762M435.5 326V387M435.5 677V763M436.5 317V372M436.5 676V740M436.5 744V763M437.5 318V369M437.5 666V702M437.5 754V764M438.5 307V356M438.5 678V741M438.5 743V763M439.5 304V360M439.5 685V761M440.5 312V369M440.5 677V739M440.5 744V763M441.5 314V372M441.5 677V739M441.5 744V763M442.5 317V376M442.5 677V741M442.5 743V763M443.5 328V389M443.5 671V708M443.5 750V764M444.5 324V386M444.5 673V709M444.5 749V763M445.5 362V437M445.5 657V694M445.5 756V764M446.5 316V377M446.5 666V700M446.5 754V764M447.5 302V357M447.5 670V703M447.5 752V764M448.5 291V342M448.5 674V706M448.5 749V763M449.5 252V322M449.5 680V714M449.5 745V761M450.5 293V346M450.5 675V705M450.5 748V762M451.5 310V364M451.5 666V696M451.5 753V764M452.5 287V339M452.5 676V705M452.5 747V762M453.5 283V338M453.5 678V706M453.5 746V761M454.5 288V349M454.5 676V704M454.5 747V761M455.5 304V368M455.5 669V696M455.5 751V763M456.5 286V364M456.5 677V704M456.5 747V760M457.5 223V319M457.5 676V703M457.5 747V761M458.5 301V377M458.5 675V701M458.5 747V760M459.5 299V379M459.5 675V701M459.5 747V759M460.5 286V363M460.5 676V701M460.5 747V759M461.5 257V347M461.5 672V696M461.5 749V761M462.5 301V373M462.5 665V689M462.5 751V764M463.5 317V404M463.5 668V693M463.5 750V762M464.5 288V347M464.5 675V700M464.5 747V759M465.5 283V331M465.5 680V705M465.5 745V757M466.5 286V333M466.5 684V709M466.5 744V755M467.5 305V386M467.5 682V708M467.5 744V755M468.5 301V352M468.5 680V706M468.5 745V756M469.5 253V311M469.5 695V750M470.5 317V397M470.5 682V709M470.5 743V754M471.5 322V404M471.5 680V708M471.5 744V755M472.5 327V409M472.5 678V706M472.5 745V756M473.5 408V478M473.5 663V691M473.5 749V761M474.5 298V330M474.5 688V753M475.5 328V417M475.5 674V702M475.5 746V757M476.5 315V377M476.5 682V710M476.5 743V756M477.5 316V378M477.5 688V756M478.5 317V385M478.5 695V755M479.5 302V331M479.5 701V755M480.5 315V390M480.5 691V759M481.5 321V393M481.5 687V760M482.5 324V407M482.5 686V732M482.5 744V760M483.5 329V418M483.5 683V708M483.5 747V761M484.5 337V425M484.5 681V706M484.5 749V762M485.5 332V415M485.5 683V708M485.5 747V761M486.5 358V422M486.5 675V699M486.5 754V764M487.5 325V401M487.5 683V706M487.5 749V762M488.5 315V379M488.5 685V709M488.5 747V762M489.5 320V392M489.5 684V708M489.5 748V762M490.5 329V409M490.5 682V706M490.5 749V763M491.5 389V437M491.5 680V703M491.5 751V763M492.5 396V441M492.5 673V697M492.5 755V764M493.5 401V448M493.5 677V701M493.5 753V764M494.5 319V387M494.5 687V709M494.5 746V761M495.5 322V393M495.5 684V707M495.5 748V762M496.5 344V417M496.5 679V701M496.5 754V764M497.5 401V446M497.5 671V694M497.5 756V764M498.5 348V419M498.5 673V696M498.5 756V764M499.5 327V401M499.5 681V704M499.5 752V764M500.5 338V412M500.5 678V701M500.5 754V764M501.5 331V407M501.5 677V700M501.5 755V764M502.5 328V404M502.5 677V700M502.5 755V764M503.5 363V424M503.5 672V696M503.5 756V764M504.5 356V421M504.5 676V699M504.5 755V764M505.5 389V434M505.5 664V688M505.5 759V764M506.5 365V420M506.5 667V690M506.5 758V764M507.5 332V404M507.5 672V695M507.5 757V764M508.5 325V394M508.5 675V698M508.5 756V764M509.5 349V416M509.5 669V693M509.5 758V764M510.5 375V424M510.5 665V689M510.5 759V764M511.5 331V403M511.5 676V700M511.5 755V764M512.5 326V394M512.5 676V700M512.5 755V764M513.5 290V324M513.5 689V737M513.5 743V761M514.5 209V301M514.5 696V759M515.5 344V410M515.5 668V691M515.5 759V764M516.5 323V386M516.5 668V691M516.5 759V764M517.5 292V329M517.5 680V702M517.5 756V764M518.5 294V329M518.5 680V701M518.5 756V764M519.5 313V367M519.5 677V697M519.5 757V764M520.5 350V412M520.5 671V691M520.5 759V764M521.5 417V507M521.5 650V676M521.5 763V764M522.5 357V417M522.5 666V685M522.5 761V764M523.5 364V421M523.5 663V682M523.5 762V764M524.5 325V395M524.5 666V684M524.5 761V764M525.5 313V374M525.5 668V687M525.5 760V764M526.5 315V375M526.5 668V687M526.5 760V764M527.5 375V437M527.5 660V679M527.5 762V764M528.5 371V429M528.5 659V677M528.5 763V764M529.5 358V418M529.5 662V681M529.5 762V764M530.5 398V483M530.5 642V675M530.5 763V764M531.5 371V438M531.5 659V678M531.5 762V764M532.5 338V404M532.5 663V682M532.5 761V764M533.5 342V411M533.5 664V684M533.5 761V764M534.5 320V379M534.5 665V683M534.5 761V764M535.5 434V667M536.5 388V471M536.5 616V673M536.5 763V764M537.5 398V487M537.5 594V672M537.5 763V764M538.5 412V671M538.5 763V764M539.5 389V479M539.5 659V679M539.5 761V764M540.5 397V480M540.5 659V679M540.5 761V764M541.5 368V437M541.5 657V676M541.5 762V764M542.5 329V401M542.5 664V684M542.5 760V764M543.5 342V413M543.5 661V681M543.5 761V764M544.5 372V438M544.5 650V675M544.5 762V764M545.5 408V668M546.5 395V488M546.5 509V567M546.5 630V674M546.5 762V764M547.5 375V447M547.5 642V674M547.5 762V764M548.5 425V666M549.5 397V493M549.5 496V590M549.5 612V671M549.5 763V764M550.5 344V426M550.5 657V677M550.5 761V764M551.5 328V404M551.5 662V682M551.5 760V764M552.5 352V423M552.5 657V677M552.5 761V764M553.5 353V433M553.5 658V679M553.5 761V764M554.5 427V668M554.5 763V764M555.5 445V668M555.5 763V764M556.5 430V671M556.5 762V764M557.5 365V424M557.5 640V674M557.5 762V764M558.5 379V479M558.5 533V563M558.5 624V673M558.5 762V764M559.5 585V646M560.5 441V668M560.5 762V764M561.5 404V592M561.5 611V672M561.5 762V764M562.5 385V494M562.5 496V582M562.5 614V671M562.5 762V764M563.5 420V665M563.5 763V764M564.5 436V663M564.5 763V764M565.5 431V663M565.5 763V764M566.5 389V592M566.5 607V670M566.5 762V764M567.5 383V479M567.5 628V674M567.5 761V764M568.5 386V487M568.5 624V674M568.5 760V764M569.5 442V661M569.5 763V764M570.5 421V661M570.5 763V764M571.5 380V458M571.5 623V673M571.5 760V764M572.5 763V764M573.5 763V764M574.5 555V657M574.5 762V764M575.5 439V660M575.5 761V764M576.5 434V659M576.5 761V764M577.5 442V627M577.5 762V764M578.5 460V664M578.5 760V764M579.5 434V665M579.5 759V764M580.5 413V489M580.5 504V662M580.5 760V764M581.5 461V614M581.5 761V764M582.5 414V492M582.5 498V657M582.5 761V764M583.5 471V584M583.5 761V764M584.5 428V640M584.5 761V764M585.5 433V618M585.5 761V764M586.5 451V589M586.5 761V764M587.5 468V548M587.5 761V764M588.5 762V764M589.5 460V605M589.5 760V764M590.5 433V652M590.5 759V764M591.5 439V642M591.5 759V764M592.5 436V658M592.5 758V764M593.5 377V439M593.5 653V686M593.5 754V761M594.5 468V666M594.5 757V764M595.5 469V657M595.5 760V764M596.5 489V663M596.5 759V764M597.5 494V663M597.5 760V764M598.5 490V666M598.5 760V764M599.5 469V511M599.5 660V684M599.5 755V763M600.5 581V658M600.5 760V764M601.5 759V764M602.5 524V668M602.5 756V763M603.5 476V682M603.5 753V761M604.5 449V512M604.5 649V690M604.5 750V760M605.5 482V680M605.5 752V761M606.5 487V667M606.5 755V763M607.5 423V478M607.5 634V683M607.5 751V760M608.5 471V671M608.5 753V761M609.5 487V666M609.5 754V762M610.5 493V665M610.5 753V761M611.5 489V672M611.5 750V759M612.5 525V657M612.5 753V761M613.5 756V763M614.5 526V641M614.5 753V761M615.5 521V639M615.5 752V761M616.5 520V633M616.5 752V761M617.5 511V658M617.5 749V759M618.5 509V632M618.5 752V760M619.5 534V628M619.5 749V759M620.5 752V760M621.5 546V610M621.5 750V759M622.5 511V650M622.5 747V758M623.5 450V531M623.5 565V676M623.5 744V756M624.5 537V608M624.5 750V760M625.5 501V667M625.5 744V756M626.5 486V674M626.5 742V755M627.5 528V632M627.5 747V758M628.5 752V760M629.5 749V759M630.5 481V664M630.5 745V756M631.5 468V667M631.5 744V756M632.5 538V614M632.5 748V758M633.5 751V760M634.5 752V761M635.5 536V607M635.5 749V759M636.5 749V758M637.5 511V630M637.5 748V758M638.5 507V660M638.5 745V755M639.5 525V660M639.5 744V755M640.5 525V675M640.5 743V753M641.5 407V484M641.5 672V746M642.5 465V516M642.5 657V747M643.5 510V749M644.5 512V596M644.5 607V748M645.5 515V602M645.5 603V748M646.5 517V749M647.5 514V571M647.5 633V749M648.5 514V547M648.5 649V749M649.5 524V752M650.5 516V749M651.5 519V750M652.5 522V694M652.5 730V751M653.5 513V674M653.5 735V751M654.5 747V757M655.5 747V756M656.5 749V757M657.5 750V758M658.5 752V759M659.5 754V761M660.5 750V758M661.5 752V760M662.5 747V755M663.5 746V754M664.5 747V755M665.5 746V755M666.5 506V566M666.5 741V751M667.5 745V754M668.5 744V752M669.5 743V752M670.5 742V751M671.5 737V749M672.5 739V750M673.5 741V750M674.5 553V622M674.5 735V747M675.5 478V663M675.5 734V746M676.5 455V667M676.5 734V746M677.5 513V660M677.5 734V746M678.5 739V748M679.5 590V619M679.5 736V747M680.5 739V749M681.5 739V748M682.5 533V625M682.5 737V747M683.5 399V483M683.5 554V675M683.5 733V744M684.5 474V669M684.5 733V744M685.5 456V668M685.5 734V745M686.5 591V627M686.5 735V746M687.5 582V646M687.5 734V745M688.5 518V663M688.5 733V744M689.5 480V669M689.5 732V744M690.5 409V489M690.5 559V582M690.5 607V704M690.5 722V740M691.5 454V677M691.5 730V743M692.5 492V651M692.5 733V745M693.5 541V658M693.5 732V744M694.5 540V667M694.5 730V743M695.5 498V667M695.5 731V743M696.5 534V662M696.5 731V743M697.5 736V745M698.5 735V744M699.5 734V744M700.5 733V744M701.5 732V743M702.5 520V667M702.5 729V740M703.5 733V743M704.5 732V743M705.5 732V742M706.5 731V742M707.5 730V741M708.5 524V652M708.5 729V740M709.5 733V743M710.5 735V744M711.5 732V742M712.5 575V608M712.5 729V740M713.5 534V560M713.5 733V743M714.5 730V740M715.5 732V742M716.5 732V742M717.5 733V743M718.5 732V742M719.5 486V544M719.5 564V735M720.5 517V695M720.5 724V737M721.5 519V691M721.5 727V737M722.5 730V740M723.5 548V639M723.5 730V740M724.5 524V665M724.5 730V739M725.5 521V669M725.5 729V739M726.5 733V743M727.5 736V744M728.5 512V677M728.5 729V738M729.5 483V535M729.5 586V699M729.5 723V736M730.5 482V539M730.5 571V695M730.5 727V736M731.5 733V741M732.5 733V742M733.5 587V607M733.5 732V740M734.5 522V659M734.5 730V738M735.5 518V657M735.5 730V739M736.5 523V631M736.5 732V740M737.5 735V742M738.5 736V743M739.5 735V742M740.5 734V742M741.5 734V741M742.5 733V741M743.5 735V742M744.5 735V742M745.5 735V742M746.5 734V741M747.5 734V741M748.5 735V742M749.5 733V741M750.5 737V744M751.5 736V743M752.5 733V740M753.5 734V741M754.5 735V742M755.5 736V743M756.5 736V743M757.5 737V744M758.5 737V744M759.5 736V743M760.5 736V743M761.5 736V743M762.5 736V743M763.5 734V741M764.5 736V743M765.5 736V743M766.5 735V742M767.5 736V743M768.5 735V742M769.5 736V744M770.5 737V745M771.5 737V744M772.5 316V381M772.5 417V615M772.5 735V743M773.5 116V646M773.5 733V740M774.5 508V606M774.5 736V744M775.5 736V744M776.5 319V619M776.5 736V743M777.5 116V636M777.5 735V742M778.5 158V323M778.5 559V645M778.5 734V742M779.5 116V632M779.5 736V743M780.5 116V191M780.5 563V588M780.5 738V745M781.5 636V684M781.5 729V737M782.5 202V475M782.5 509V642M782.5 734V742M783.5 166V634M783.5 735V743M784.5 214V637M784.5 735V743M785.5 250V327M785.5 575V649M785.5 734V741M786.5 204V624M786.5 736V744M787.5 260V314M787.5 592V655M787.5 733V741M788.5 228V638M788.5 735V743M789.5 157V273M789.5 294V618M789.5 737V744M790.5 139V263M790.5 594V603M790.5 738V745M791.5 226V618M791.5 737V744M792.5 257V638M792.5 736V744M793.5 315V384M793.5 614V665M793.5 732V740M794.5 292V584M794.5 609V662M794.5 733V741M795.5 306V590M795.5 608V660M795.5 734V741M796.5 286V649M796.5 735V743M797.5 116V248M797.5 741V746M798.5 258V311M798.5 585V618M798.5 738V745M799.5 288V642M799.5 736V744M800.5 300V652M800.5 735V743M801.5 295V659M801.5 734V743M802.5 288V381M802.5 478V661M802.5 734V742M803.5 274V329M803.5 485V646M803.5 736V744M804.5 262V309M804.5 583V624M804.5 739V746M805.5 116V247M805.5 744V750M806.5 261V310M806.5 582V624M806.5 740V747M807.5 286V330M807.5 507V643M807.5 738V746M808.5 292V647M808.5 737V746M809.5 273V324M809.5 558V632M809.5 740V747M810.5 246V294M810.5 600V605M810.5 742V749M811.5 241V291M811.5 601V604M811.5 743V749M812.5 277V633M812.5 740V748M813.5 285V638M813.5 740V748M814.5 285V636M814.5 740V749M815.5 292V631M815.5 743V750M816.5 279V633M816.5 743V750M817.5 249V299M817.5 747V754M818.5 320V643M818.5 744V751M819.5 611V659M819.5 743V750M820.5 616V662M820.5 743V750M821.5 319V647M821.5 745V752M822.5 522V577M822.5 607V657M822.5 745V752M823.5 298V628M823.5 749V755M824.5 313V639M824.5 748V754M825.5 355V597M825.5 604V653M825.5 747V753M826.5 615V661M826.5 747V753M827.5 608V653M827.5 748V754M828.5 609V657M828.5 748V754M829.5 511V596M829.5 603V650M829.5 750V756M830.5 359V634M830.5 751V759M831.5 605V649M831.5 751V757M832.5 624V664M832.5 749V755M833.5 631V669M833.5 749V754M834.5 503V642M834.5 752V759M835.5 325V642M835.5 751V759M836.5 311V645M836.5 751V758M837.5 302V639M837.5 751V759M838.5 298V332M838.5 409V631M838.5 752V760M839.5 303V383M839.5 388V634M839.5 752V760M840.5 288V318M840.5 582V613M840.5 753V762M841.5 297V329M841.5 399V643M841.5 752V759M842.5 280V310M842.5 549V634M842.5 752V760M843.5 271V306M843.5 571V626M843.5 753V760M844.5 266V304M844.5 571V625M844.5 753V761M845.5 246V294M845.5 510V656M845.5 751V759M846.5 116V246M846.5 754V762M847.5 759V764M848.5 116V241M848.5 754V762M849.5 121V237M849.5 595V621M849.5 753V761M850.5 753V761M851.5 755V763M852.5 758V764M853.5 755V763M854.5 756V763M855.5 755V762M856.5 754V762M857.5 759V764M858.5 760V764M859.5 759V764M860.5 758V764M861.5 759V764M862.5 760V764M863.5 760V764M864.5 758V764M865.5 760V764M866.5 759V764M867.5 760V764M868.5 761V764M869.5 757V764M870.5 758V764M871.5 759V764M872.5 760V764M873.5 760V764M874.5 759V764M875.5 758V764M876.5 757V764M877.5 759V764M878.5 763V764M882.5 761V764M883.5 760V764M884.5 763V764M888.5 763V764M890.5 763V764M891.5 763V764M892.5 763V764M893.5 761V764M894.5 762V764M896.5 763V764M899.5 762V764M900.5 763V764M901.5 763V764M902.5 762V764M903.5 762V764M904.5 763V764M906.5 763V764M944.5 599V608"/>
<path stroke="#BFFF3F" d="M395.5 116V236M396.5 116V230M397.5 116V250M398.5 116V281M399.5 116V302M400.5 181V315M401.5 116V290M404.5 116V302M405.5 286V345M406.5 312V370M407.5 287V347M408.5 116V131M408.5 276V355M409.5 116V321M410.5 288V348M411.5 265V340M412.5 116V313M413.5 116V264M414.5 313V368M415.5 116V289M416.5 284V336M417.5 300V353M418.5 304V359M419.5 289V343M420.5 116V289M421.5 116V309M422.5 231V305M423.5 208V300M424.5 175V299M425.5 252V320M426.5 303V354M427.5 294V351M428.5 305V357M429.5 296V345M430.5 284V330M431.5 280V323M432.5 116V302M433.5 190V322M434.5 286V334M435.5 281V326M436.5 268V317M436.5 740V744M437.5 280V318M437.5 702V754M438.5 235V307M438.5 741V743M439.5 188V304M440.5 238V312M440.5 739V744M441.5 247V314M441.5 739V744M442.5 262V317M442.5 741V743M443.5 289V328M443.5 708V750M444.5 281V324M444.5 709V749M445.5 305V362M445.5 694V756M446.5 256V316M446.5 700V754M447.5 211V302M447.5 703V752M448.5 175V291M448.5 706V749M449.5 116V252M449.5 714V745M450.5 188V293M450.5 705V748M451.5 251V310M451.5 696V753M452.5 175V287M452.5 705V747M453.5 138V283M453.5 706V746M454.5 163V288M454.5 704V747M455.5 211V304M455.5 696V751M456.5 116V286M456.5 704V747M457.5 116V223M457.5 703V747M458.5 190V301M458.5 701V747M459.5 182V299M459.5 701V747M460.5 152V286M460.5 701V747M461.5 126V257M461.5 696V749M462.5 207V301M462.5 689V751M463.5 212V317M463.5 693V750M464.5 196V288M464.5 700V747M465.5 197V283M465.5 705V745M466.5 204V286M466.5 709V744M467.5 223V305M467.5 708V744M468.5 243V301M468.5 706V745M469.5 185V253M470.5 275V317M470.5 709V743M471.5 285V322M471.5 708V744M472.5 292V327M472.5 706V745M473.5 328V408M473.5 691V749M474.5 246V298M475.5 296V328M475.5 702V746M476.5 286V315M476.5 710V743M477.5 289V316M478.5 290V317M479.5 245V302M480.5 287V315M481.5 295V321M482.5 296V324M482.5 732V744M483.5 300V329M483.5 708V747M484.5 305V337M484.5 706V749M485.5 306V332M485.5 708V747M486.5 313V358M486.5 699V754M487.5 300V325M487.5 706V749M488.5 288V315M488.5 709V747M489.5 293V320M489.5 708V748M490.5 303V329M490.5 706V749M491.5 316V389M491.5 703V751M492.5 324V396M492.5 697V755M493.5 324V401M493.5 701V753M494.5 295V319M494.5 709V746M495.5 298V322M495.5 707V748M496.5 310V344M496.5 701V754M497.5 328V401M497.5 694V756M498.5 310V348M498.5 696V756M499.5 302V327M499.5 704V752M500.5 308V338M500.5 701V754M501.5 304V331M501.5 700V755M502.5 301V328M502.5 700V755M503.5 311V363M503.5 696V756M504.5 309V356M504.5 699V755M505.5 320V389M505.5 688V759M506.5 315V365M506.5 690V758M507.5 305V332M507.5 695V757M508.5 296V325M508.5 698V756M509.5 306V349M509.5 693V758M510.5 317V375M510.5 689V759M511.5 299V331M511.5 700V755M512.5 294V326M512.5 700V755M513.5 201V290M513.5 737V743M514.5 171V209M515.5 303V344M515.5 691V759M516.5 291V323M516.5 691V759M517.5 205V292M517.5 702V756M518.5 211V294M518.5 701V756M519.5 262V313M519.5 697V757M520.5 304V350M520.5 691V759M521.5 359V417M521.5 676V695M521.5 756V763M522.5 308V357M522.5 685V704M522.5 752V761M523.5 313V364M523.5 682V700M523.5 754V762M524.5 283V325M524.5 684V703M524.5 754V761M525.5 223V313M525.5 687V705M525.5 752V760M526.5 254V315M526.5 687V705M526.5 752V760M527.5 314V375M527.5 679V698M527.5 756V762M528.5 319V371M528.5 677V696M528.5 756V763M529.5 310V358M529.5 681V700M529.5 755V762M530.5 329V398M530.5 675V695M530.5 757V763M531.5 312V371M531.5 678V697M531.5 756V762M532.5 292V338M532.5 682V701M532.5 755V761M533.5 295V342M533.5 684V703M533.5 754V761M534.5 280V320M534.5 683V702M534.5 755V761M535.5 366V434M535.5 667V687M535.5 758V764M536.5 324V388M536.5 673V692M536.5 757V763M537.5 331V398M537.5 672V691M537.5 757V763M538.5 345V412M538.5 671V691M538.5 757V763M539.5 316V389M539.5 679V699M539.5 755V761M540.5 326V397M540.5 679V699M540.5 755V761M541.5 316V368M541.5 676V696M541.5 756V762M542.5 297V329M542.5 684V703M542.5 754V760M543.5 306V342M543.5 681V701M543.5 755V761M544.5 320V372M544.5 675V695M544.5 756V762M545.5 332V408M545.5 668V688M545.5 758V764M546.5 322V395M546.5 674V694M546.5 756V762M547.5 319V375M547.5 674V694M547.5 756V762M548.5 345V425M548.5 666V687M548.5 758V764M549.5 324V397M549.5 671V691M549.5 757V763M550.5 306V344M550.5 677V697M550.5 755V761M551.5 295V328M551.5 682V703M551.5 754V760M552.5 309V352M552.5 677V698M552.5 755V761M553.5 304V353M553.5 679V699M553.5 755V761M554.5 356V427M554.5 668V689M554.5 757V763M555.5 372V445M555.5 668V689M555.5 757V763M556.5 363V430M556.5 671V692M556.5 756V762M557.5 323V365M557.5 674V695M557.5 756V762M558.5 324V379M558.5 673V694M558.5 756V762M559.5 434V585M559.5 646V678M559.5 759V764M560.5 373V441M560.5 668V691M560.5 756V762M561.5 351V404M561.5 672V694M561.5 756V762M562.5 341V385M562.5 671V694M562.5 756V762M563.5 361V420M563.5 665V688M563.5 757V763M564.5 372V436M564.5 663V685M564.5 757V763M565.5 369V431M565.5 663V686M565.5 757V763M566.5 352V389M566.5 670V693M566.5 756V762M567.5 348V383M567.5 674V697M567.5 755V761M568.5 352V386M568.5 674V697M568.5 755V760M569.5 374V442M569.5 661V685M569.5 757V763M570.5 369V421M570.5 661V684M570.5 757V763M571.5 348V380M571.5 673V697M571.5 754V760M572.5 419V674M572.5 758V763M573.5 437V676M573.5 757V763M574.5 420V555M574.5 657V682M574.5 756V762M575.5 379V439M575.5 660V684M575.5 756V761M576.5 376V434M576.5 659V683M576.5 756V761M577.5 380V442M577.5 627V676M577.5 757V762M578.5 387V460M578.5 664V689M578.5 754V760M579.5 377V434M579.5 665V689M579.5 754V759M580.5 369V413M580.5 662V686M580.5 755V760M581.5 390V461M581.5 614V676M581.5 756V761M582.5 369V414M582.5 657V681M582.5 755V761M583.5 403V471M583.5 584V675M583.5 756V761M584.5 376V428M584.5 640V679M584.5 755V761M585.5 378V433M585.5 618V676M585.5 756V761M586.5 385V451M586.5 589V673M586.5 756V761M587.5 397V468M587.5 548V671M587.5 756V761M588.5 467V658M588.5 757V762M589.5 393V460M589.5 605V680M589.5 754V760M590.5 376V433M590.5 652V686M590.5 752V759M591.5 378V439M591.5 642V686M591.5 752V759M592.5 378V436M592.5 658V691M592.5 750V758M593.5 347V377M593.5 686V754M594.5 411V468M594.5 666V696M594.5 749V757M595.5 417V469M595.5 657V685M595.5 753V760M596.5 454V489M596.5 663V690M596.5 751V759M597.5 462V494M597.5 663V689M597.5 752V760M598.5 460V490M598.5 666V690M598.5 752V760M599.5 438V469M599.5 684V709M599.5 744V755M600.5 482V581M600.5 658V686M600.5 753V760M601.5 506V689M601.5 750V759M602.5 464V524M602.5 668V706M602.5 744V756M603.5 412V476M603.5 682V753M604.5 383V449M604.5 690V750M605.5 436V482M605.5 680V752M606.5 443V487M606.5 667V701M606.5 742V755M607.5 373V423M607.5 683V751M608.5 416V471M608.5 671V704M608.5 733V753M609.5 437V487M609.5 666V700M609.5 736V754M610.5 443V493M610.5 665V698M610.5 736V753M611.5 438V489M611.5 672V705M611.5 729V750M612.5 464V525M612.5 657V691M612.5 738V753M613.5 486V676M613.5 744V756M614.5 463V526M614.5 641V692M614.5 736V753M615.5 456V521M615.5 639V696M615.5 734V752M616.5 453V520M616.5 633V699M616.5 732V752M617.5 444V511M617.5 658V749M618.5 429V509M618.5 632V752M619.5 472V534M619.5 628V749M620.5 499V752M621.5 478V546M621.5 610V750M622.5 438V511M622.5 650V747M623.5 386V450M623.5 676V744M624.5 466V537M624.5 608V695M624.5 732V750M625.5 428V501M625.5 667V744M626.5 416V486M626.5 674V742M627.5 470V528M627.5 632V694M627.5 731V747M628.5 515V670M628.5 739V752M629.5 502V681M629.5 736V749M630.5 411V481M630.5 664V704M630.5 728V745M631.5 394V468M631.5 667V709M631.5 718V744M632.5 473V538M632.5 614V691M632.5 732V748M633.5 517V674M633.5 737V751M634.5 532V665M634.5 740V752M635.5 469V536M635.5 607V697M635.5 730V749M636.5 496V702M636.5 727V749M637.5 441V511M637.5 630V748M638.5 441V507M638.5 660V745M639.5 478V525M639.5 660V744M640.5 486V525M640.5 675V743M641.5 369V407M642.5 386V465M643.5 462V510M644.5 471V512M645.5 485V515M646.5 495V517M647.5 486V514M648.5 489V514M649.5 503V524M650.5 490V516M651.5 492V519M652.5 495V522M652.5 694V730M653.5 456V513M653.5 674V735M654.5 515V685M654.5 727V747M655.5 511V662M655.5 729V747M656.5 513V608M656.5 736V749M657.5 740V750M658.5 744V752M659.5 746V754M660.5 741V750M661.5 744V752M662.5 456V618M662.5 733V747M663.5 465V623M663.5 732V746M664.5 489V599M664.5 734V747M665.5 491V608M665.5 733V746M666.5 422V506M666.5 566V741M667.5 498V627M667.5 731V745M668.5 450V680M668.5 728V744M669.5 449V686M669.5 728V743M670.5 456V695M670.5 726V742M671.5 452V737M672.5 489V739M673.5 506V697M673.5 723V741M674.5 451V553M674.5 622V735M675.5 402V478M675.5 663V734M676.5 382V455M676.5 667V734M677.5 436V513M677.5 660V734M678.5 472V700M678.5 723V739M679.5 456V590M679.5 619V736M680.5 492V691M680.5 728V739M681.5 477V694M681.5 727V739M682.5 434V533M682.5 625V705M682.5 718V737M683.5 355V399M683.5 675V733M684.5 399V474M684.5 669V733M685.5 384V456M685.5 668V734M686.5 451V591M686.5 627V735M687.5 449V582M687.5 646V734M688.5 428V518M688.5 663V733M689.5 403V480M689.5 669V732M690.5 356V409M690.5 704V722M691.5 384V454M691.5 677V730M692.5 416V492M692.5 651V733M693.5 432V541M693.5 658V732M694.5 439V540M694.5 667V730M695.5 425V498M695.5 667V731M696.5 436V534M696.5 662V731M697.5 460V710M697.5 711V736M698.5 461V735M699.5 470V734M700.5 480V733M701.5 488V732M702.5 441V520M702.5 667V729M703.5 483V733M704.5 496V732M705.5 489V732M706.5 477V731M707.5 462V730M708.5 449V524M708.5 652V729M709.5 507V733M710.5 544V700M710.5 715V735M711.5 514V732M712.5 478V575M712.5 608V729M713.5 449V534M713.5 560V733M714.5 491V730M715.5 510V732M716.5 504V732M717.5 507V733M718.5 502V732M719.5 377V486M720.5 458V517M720.5 695V724M721.5 465V519M721.5 691V727M722.5 511V730M723.5 505V548M723.5 639V730M724.5 486V524M724.5 665V730M725.5 471V521M725.5 669V729M726.5 506V733M727.5 527V681M727.5 727V736M728.5 415V512M728.5 677V729M729.5 366V483M729.5 699V723M730.5 369V482M730.5 695V727M731.5 502V733M732.5 498V709M732.5 712V733M733.5 499V587M733.5 607V732M734.5 451V522M734.5 659V730M735.5 422V518M735.5 657V730M736.5 429V523M736.5 631V732M737.5 507V683M737.5 727V735M738.5 547V660M738.5 728V736M739.5 504V677M739.5 727V735M740.5 441V685M740.5 727V734M741.5 486V691M741.5 723V734M742.5 509V690M742.5 722V733M743.5 524V668M743.5 728V735M744.5 537V660M744.5 728V735M745.5 528V660M745.5 728V735M746.5 495V685M746.5 727V734M747.5 512V680M747.5 727V734M748.5 523V675M748.5 727V735M749.5 362V695M749.5 722V733M750.5 527V617M750.5 731V737M751.5 729V736M752.5 518V695M752.5 721V733M753.5 518V685M753.5 727V734M754.5 546V666M754.5 728V735M755.5 586V647M755.5 729V736M756.5 570V658M756.5 729V736M757.5 730V737M758.5 582V641M758.5 730V737M759.5 589V658M759.5 729V736M760.5 590V663M760.5 729V736M761.5 510V670M761.5 729V736M762.5 116V671M762.5 729V736M763.5 247V370M763.5 461V689M763.5 727V734M764.5 241V375M764.5 473V673M764.5 729V736M765.5 248V385M765.5 455V674M765.5 728V736M766.5 257V403M766.5 444V679M766.5 728V735M767.5 275V363M767.5 481V675M767.5 728V736M768.5 116V687M768.5 727V735M769.5 298V367M769.5 464V667M769.5 729V736M770.5 324V337M770.5 542V655M770.5 730V737M771.5 261V667M771.5 729V737M772.5 190V316M772.5 381V417M772.5 615V682M772.5 728V735M773.5 646V704M773.5 717V733M774.5 116V508M774.5 606V672M774.5 729V736M775.5 290V670M775.5 729V736M776.5 116V319M776.5 619V678M776.5 729V736M777.5 636V689M777.5 728V735M778.5 645V696M778.5 727V734M779.5 632V683M779.5 728V736M780.5 191V563M780.5 588V657M780.5 731V738M781.5 684V729M782.5 642V694M782.5 727V734M783.5 634V686M783.5 728V735M784.5 637V690M784.5 728V735M785.5 649V701M785.5 721V734M786.5 624V679M786.5 729V736M787.5 655V706M787.5 716V733M788.5 638V690M788.5 728V735M789.5 273V294M789.5 618V674M789.5 730V737M790.5 263V594M790.5 603V662M790.5 731V738M791.5 618V674M791.5 730V737M792.5 638V685M792.5 729V736M793.5 665V732M794.5 662V708M794.5 714V733M795.5 660V706M795.5 718V734M796.5 649V696M796.5 727V735M797.5 248V296M797.5 572V641M797.5 733V741M798.5 311V585M798.5 618V675M798.5 730V738M799.5 642V690M799.5 728V736M800.5 652V697M800.5 727V735M801.5 659V705M801.5 719V734M802.5 381V478M802.5 661V709M802.5 713V734M803.5 329V485M803.5 646V694M803.5 728V736M804.5 309V583M804.5 624V678M804.5 730V739M805.5 247V289M805.5 596V614M805.5 737V744M806.5 310V582M806.5 624V676M806.5 731V740M807.5 330V507M807.5 643V690M807.5 729V738M808.5 647V694M808.5 728V737M809.5 324V558M809.5 632V681M809.5 731V740M810.5 294V600M810.5 605V665M810.5 733V742M811.5 291V601M811.5 604V664M811.5 733V743M812.5 633V682M812.5 731V740M813.5 638V686M813.5 730V740M814.5 636V686M814.5 730V740M815.5 631V680M815.5 732V743M816.5 633V683M816.5 731V743M817.5 299V652M817.5 738V747M818.5 643V685M818.5 733V744M819.5 659V696M819.5 730V743M820.5 662V700M820.5 729V743M821.5 647V688M821.5 734V745M822.5 657V693M822.5 733V745M823.5 628V670M823.5 743V749M824.5 639V680M824.5 740V748M825.5 653V689M825.5 737V747M826.5 661V694M826.5 736V747M827.5 653V686M827.5 743V748M828.5 657V689M828.5 743V748M829.5 650V683M829.5 744V750M830.5 634V672M830.5 746V751M831.5 649V681M831.5 746V751M832.5 664V693M832.5 744V749M833.5 669V698M833.5 743V749M834.5 642V677M834.5 746V752M835.5 642V679M835.5 746V751M836.5 645V682M836.5 746V751M837.5 639V679M837.5 746V751M838.5 332V409M838.5 631V676M838.5 746V752M839.5 383V388M839.5 634V678M839.5 746V752M840.5 318V582M840.5 613V669M840.5 748V753M841.5 329V399M841.5 643V683M841.5 746V752M842.5 310V549M842.5 634V681M842.5 746V752M843.5 306V571M843.5 626V678M843.5 746V753M844.5 304V571M844.5 625V678M844.5 746V753M845.5 294V326M845.5 387V510M845.5 656V688M845.5 744V751M846.5 246V291M846.5 511V669M846.5 747V754M847.5 155V194M847.5 752V759M848.5 241V291M848.5 450V676M848.5 746V754M849.5 116V121M849.5 237V290M849.5 438V595M849.5 621V683M849.5 745V753M850.5 116V260M850.5 461V682M850.5 745V753M851.5 514V671M851.5 747V755M852.5 750V758M853.5 520V674M853.5 747V755M854.5 540V672M854.5 747V756M855.5 506V679M855.5 746V755M856.5 505V681M856.5 746V754M857.5 752V759M858.5 752V760M859.5 752V759M860.5 596V664M860.5 749V758M861.5 602V659M861.5 751V759M862.5 753V760M863.5 598V659M863.5 752V760M864.5 510V670M864.5 750V758M865.5 599V659M865.5 752V760M866.5 587V666M866.5 750V759M867.5 752V760M868.5 753V761M869.5 555V679M869.5 748V757M870.5 554V677M870.5 749V758M871.5 587V669M871.5 750V759M872.5 752V760M873.5 601V660M873.5 752V760M874.5 583V670M874.5 750V759M875.5 525V677M875.5 749V758M876.5 489V685M876.5 748V757M877.5 526V670M877.5 751V759M878.5 755V763M879.5 756V764M880.5 756V764M881.5 757V764M882.5 754V761M883.5 544V668M883.5 751V760M884.5 755V763M885.5 756V764M886.5 757V764M887.5 756V764M888.5 602V603M888.5 755V763M889.5 756V764M890.5 587V624M890.5 755V763M891.5 594V620M891.5 755V763M892.5 598V619M892.5 754V763M893.5 555V665M893.5 752V761M894.5 527V666M894.5 753V762M895.5 756V764M896.5 755V763M897.5 756V764M898.5 757V764M899.5 511V670M899.5 753V762M900.5 594V630M900.5 755V763M901.5 522V664M901.5 754V763M902.5 498V674M902.5 752V762M903.5 487V667M903.5 753V762M904.5 499V650M904.5 754V763M905.5 757V764M906.5 755V763M907.5 758V764M908.5 762V764M909.5 761V764M910.5 759V764M911.5 761V764M912.5 760V764M913.5 760V764M914.5 760V764M915.5 761V764M916.5 761V764M917.5 600V608M917.5 758V764M918.5 601V610M918.5 758V764M919.5 589V660M919.5 758V764M920.5 578V666M920.5 757V764M921.5 588V660M921.5 759V764M922.5 597V646M922.5 759V764M923.5 591V660M923.5 758V764M924.5 584V666M924.5 756V764M925.5 763V764M926.5 584V662M926.5 758V764M927.5 576V666M927.5 757V764M928.5 573V666M928.5 757V764M929.5 586V658M929.5 758V764M930.5 762V764M931.5 582V654M931.5 760V764M932.5 593V630M932.5 760V764M933.5 579V660M933.5 758V764M934.5 569V667M934.5 756V764M935.5 762V764M936.5 590V638M936.5 759V764M937.5 593V635M937.5 759V764M938.5 763V764M939.5 762V764M940.5 595V625M940.5 760V764M941.5 763V764M942.5 580V659M942.5 758V764M943.5 583V654M943.5 759V764M944.5 495V599M944.5 608V677M944.5 755V764M945.5 581V656M945.5 759V764M946.5 763V764M948.5 761V764M949.5 763V764M950.5 590V641M950.5 759V764M951.5 599V614M951.5 760V764M952.5 762V764M953.5 591V623M953.5 761V764M954.5 763V764M959.5 763V764M960.5 763V764M962.5 763V764M963.5 762V764M964.5 763V764M966.5 763V764M971.5 580V661M971.5 760V764M972.5 580V658M972.5 762V764M973.5 595V634M973.5 763V764M978.5 591V655M978.5 762V764M983.5 590V647M983.5 763V764M984.5 597V630M990.5 594V644M990.5 763V764M1002.5 579V661"/>
<path stroke="#FFFF00" d="M400.5 116V181M405.5 116V286M406.5 116V312M407.5 116V287M408.5 131V276M410.5 116V288M411.5 116V265M414.5 116V313M416.5 116V284M417.5 116V300M418.5 116V304M419.5 116V289M422.5 116V231M423.5 116V208M424.5 116V175M425.5 116V252M426.5 116V303M427.5 116V294M428.5 179V305M429.5 116V296M430.5 116V284M431.5 116V280M433.5 116V190M434.5 116V286M435.5 116V281M436.5 116V268M437.5 116V280M438.5 116V235M439.5 116V188M440.5 116V238M441.5 116V247M442.5 116V262M443.5 189V289M444.5 116V281M445.5 194V305M446.5 116V256M447.5 116V211M448.5 116V175M450.5 116V188M451.5 146V251M452.5 116V175M453.5 116V138M454.5 116V163M455.5 116V211M458.5 116V190M459.5 116V182M460.5 116V152M461.5 116V126M462.5 116V207M463.5 116V212M464.5 116V196M465.5 116V197M466.5 116V204M467.5 142V223M468.5 186V243M469.5 116V185M470.5 200V275M471.5 215V285M472.5 229V292M473.5 296V328M474.5 191V246M475.5 224V296M476.5 219V286M477.5 222V289M478.5 220V290M479.5 180V245M480.5 204V287M481.5 232V295M482.5 216V296M483.5 220V300M484.5 261V305M485.5 280V306M486.5 289V313M487.5 255V300M488.5 208V288M489.5 217V293M490.5 269V303M491.5 289V316M492.5 300V324M493.5 299V324M494.5 222V295M495.5 235V298M496.5 286V310M497.5 304V328M498.5 285V310M499.5 257V302M500.5 283V308M501.5 276V304M502.5 223V301M503.5 283V311M504.5 279V309M505.5 293V320M506.5 289V315M507.5 264V305M508.5 215V296M509.5 221V306M510.5 288V317M511.5 213V299M512.5 210V294M513.5 134V201M514.5 116V171M515.5 216V303M516.5 211V291M517.5 157V205M518.5 176V211M519.5 192V262M520.5 216V304M521.5 310V359M521.5 695V756M522.5 223V308M522.5 704V752M523.5 268V313M523.5 700V754M524.5 190V283M524.5 703V754M525.5 181V223M525.5 705V752M526.5 188V254M526.5 705V752M527.5 221V314M527.5 698V756M528.5 282V319M528.5 696V756M529.5 247V310M529.5 700V755M530.5 284V329M530.5 695V757M531.5 220V312M531.5 697V756M532.5 205V292M532.5 701V755M533.5 204V295M533.5 703V754M534.5 190V280M534.5 702V755M535.5 312V366M535.5 687V706M535.5 748V758M536.5 287V324M536.5 692V757M537.5 297V331M537.5 691V757M538.5 305V345M538.5 691V710M538.5 720V738M538.5 743V757M539.5 210V316M539.5 699V755M540.5 291V326M540.5 699V755M541.5 284V316M541.5 696V756M542.5 206V297M542.5 703V754M543.5 261V306M543.5 701V755M544.5 291V320M544.5 695V756M545.5 303V332M545.5 688V707M545.5 747V758M546.5 290V322M546.5 694V756M547.5 290V319M547.5 694V756M548.5 307V345M548.5 687V707M548.5 748V758M549.5 294V324M549.5 691V722M549.5 745V757M550.5 216V306M550.5 697V755M551.5 180V295M551.5 703V754M552.5 247V309M552.5 698V755M553.5 116V127M553.5 177V304M553.5 699V755M554.5 309V356M554.5 689V710M554.5 745V757M555.5 318V372M555.5 689V730M555.5 744V757M556.5 314V363M556.5 692V756M557.5 289V323M557.5 695V756M558.5 197V324M558.5 694V756M559.5 372V434M559.5 678V701M559.5 752V759M560.5 329V373M560.5 691V756M561.5 310V351M561.5 694V756M562.5 303V341M562.5 694V756M563.5 322V361M563.5 688V710M563.5 745V757M564.5 337V372M564.5 685V708M564.5 747V757M565.5 333V369M565.5 686V709M565.5 746V757M566.5 320V352M566.5 693V756M567.5 317V348M567.5 697V755M568.5 321V352M568.5 697V755M569.5 342V374M569.5 685V709M569.5 746V757M570.5 339V369M570.5 684V708M570.5 746V757M571.5 319V348M571.5 697V754M572.5 370V419M572.5 674V699M572.5 751V758M573.5 377V437M573.5 676V700M573.5 749V757M574.5 371V420M574.5 682V707M574.5 745V756M575.5 351V379M575.5 684V708M575.5 745V756M576.5 348V376M576.5 683V706M576.5 745V756M577.5 353V380M577.5 676V700M577.5 749V757M578.5 359V387M578.5 689V754M579.5 349V377M579.5 689V754M580.5 342V369M580.5 686V710M580.5 743V755M581.5 362V390M581.5 676V701M581.5 747V756M582.5 342V369M582.5 681V705M582.5 745V755M583.5 367V403M583.5 675V700M583.5 747V756M584.5 350V376M584.5 679V703M584.5 746V755M585.5 353V378M585.5 676V701M585.5 747V756M586.5 359V385M586.5 673V699M586.5 747V756M587.5 365V397M587.5 671V698M587.5 747V756M588.5 402V467M588.5 658V688M588.5 750V757M589.5 363V393M589.5 680V710M589.5 735V754M590.5 348V376M590.5 686V752M591.5 350V378M591.5 686V752M592.5 350V378M592.5 691V750M593.5 318V347M594.5 366V411M594.5 696V749M595.5 372V417M595.5 685V753M596.5 397V454M596.5 690V751M597.5 417V462M597.5 689V752M598.5 417V460M598.5 690V752M599.5 379V438M599.5 709V744M600.5 447V482M600.5 686V753M601.5 460V506M601.5 689V750M602.5 402V464M602.5 706V744M603.5 367V412M604.5 350V383M605.5 378V436M606.5 384V443M606.5 701V742M607.5 343V373M608.5 371V416M608.5 704V733M609.5 381V437M609.5 700V736M610.5 384V443M610.5 698V736M611.5 382V438M611.5 705V729M612.5 409V464M612.5 691V738M613.5 427V486M613.5 676V744M614.5 403V463M614.5 692V736M615.5 397V456M615.5 696V734M616.5 396V453M616.5 699V732M617.5 389V444M618.5 378V429M619.5 409V472M620.5 425V499M621.5 411V478M622.5 386V438M623.5 361V386M624.5 399V466M624.5 695V732M625.5 378V428M626.5 374V416M627.5 405V470M627.5 694V731M628.5 454V515M628.5 670V739M629.5 431V502M629.5 681V736M630.5 373V411M630.5 704V728M631.5 364V394M631.5 709V718M632.5 404V473M632.5 691V732M633.5 458V517M633.5 674V737M634.5 482V532M634.5 665V740M635.5 397V469M635.5 697V730M636.5 428V496M636.5 702V727M637.5 382V441M638.5 382V441M639.5 410V478M640.5 419V486M641.5 345V369M642.5 362V386M643.5 392V462M644.5 403V471M645.5 416V485M646.5 425V495M647.5 413V486M648.5 416V489M649.5 447V503M650.5 418V490M651.5 420V492M652.5 421V495M653.5 384V456M654.5 456V515M654.5 685V727M655.5 442V511M655.5 662V729M656.5 436V513M656.5 608V736M657.5 476V740M658.5 521V607M658.5 723V744M659.5 493V502M659.5 515V560M659.5 734V746M660.5 435V741M661.5 457V626M661.5 728V744M662.5 385V456M662.5 618V733M663.5 392V465M663.5 623V732M664.5 415V489M664.5 599V734M665.5 418V491M665.5 608V733M666.5 371V422M667.5 427V498M667.5 627V731M668.5 383V450M668.5 680V728M669.5 383V449M669.5 686V728M670.5 387V456M670.5 695V726M671.5 383V452M672.5 423V489M673.5 437V506M673.5 697V723M674.5 381V451M675.5 358V402M676.5 346V382M677.5 375V436M678.5 404V472M678.5 700V723M679.5 384V456M680.5 425V492M680.5 691V728M681.5 409V477M681.5 694V727M682.5 375V434M682.5 705V718M683.5 323V355M684.5 354V399M685.5 345V384M686.5 381V451M687.5 380V449M688.5 370V428M689.5 354V403M690.5 320V356M691.5 345V384M692.5 365V416M693.5 372V432M694.5 375V439M695.5 371V425M696.5 370V436M697.5 386V460M697.5 710V711M698.5 383V461M699.5 389V470M700.5 402V480M701.5 413V488M702.5 372V441M703.5 397V483M704.5 415V496M705.5 408V489M706.5 393V477M707.5 378V462M708.5 373V449M709.5 426V507M710.5 479V544M710.5 700V715M711.5 447V514M712.5 385V478M713.5 374V449M714.5 385V491M715.5 438V510M716.5 414V504M717.5 423V507M718.5 407V502M719.5 331V377M720.5 364V458M721.5 369V465M722.5 450V511M723.5 414V505M724.5 369V486M725.5 365V471M726.5 396V506M727.5 499V527M727.5 681V727M728.5 344V415M729.5 324V366M730.5 328V369M731.5 384V502M732.5 376V498M732.5 709V712M733.5 375V499M734.5 355V451M735.5 349V422M736.5 353V429M737.5 383V507M737.5 683V727M738.5 496V547M738.5 660V728M739.5 378V504M739.5 677V727M740.5 353V441M740.5 685V727M741.5 363V486M741.5 691V723M742.5 379V509M742.5 690V722M743.5 378V524M743.5 668V728M744.5 424V537M744.5 660V728M745.5 378V528M745.5 660V728M746.5 353V495M746.5 685V727M747.5 356V512M747.5 680V727M748.5 354V523M748.5 675V727M749.5 291V362M749.5 695V722M750.5 336V527M750.5 617V731M751.5 499V729M752.5 116V518M752.5 695V721M753.5 116V518M753.5 685V727M754.5 116V546M754.5 666V728M755.5 155V235M755.5 333V586M755.5 647V729M756.5 341V570M756.5 658V729M757.5 369V412M757.5 458V730M758.5 116V582M758.5 641V730M759.5 116V430M759.5 448V589M759.5 658V729M760.5 116V311M760.5 479V590M760.5 663V729M761.5 116V510M761.5 670V729M762.5 671V729M763.5 116V247M763.5 370V461M763.5 689V727M764.5 116V241M764.5 375V473M764.5 673V729M765.5 116V248M765.5 385V455M765.5 674V728M766.5 116V257M766.5 403V444M766.5 679V728M767.5 116V275M767.5 363V481M767.5 675V728M768.5 687V727M769.5 116V298M769.5 367V464M769.5 667V729M770.5 116V324M770.5 337V542M770.5 655V730M771.5 116V261M771.5 667V729M772.5 116V190M772.5 682V728M773.5 704V717M774.5 672V729M775.5 116V290M775.5 670V729M776.5 678V729M777.5 689V728M778.5 696V727M779.5 683V728M780.5 657V731M782.5 694V727M783.5 686V728M784.5 690V728M785.5 701V721M786.5 679V729M787.5 706V716M788.5 690V728M789.5 674V730M790.5 662V731M791.5 674V730M792.5 685V729M794.5 708V714M795.5 706V718M796.5 696V727M797.5 296V572M797.5 641V699M797.5 721V733M798.5 675V730M799.5 690V728M800.5 697V727M801.5 705V719M802.5 709V713M803.5 694V728M804.5 678V730M805.5 289V329M805.5 536V596M805.5 614V678M805.5 729V737M806.5 676V731M807.5 690V729M808.5 694V728M809.5 681V731M810.5 665V733M811.5 664V733M812.5 682V731M813.5 686V730M814.5 686V730M815.5 680V732M816.5 683V731M817.5 652V698M817.5 727V738M818.5 685V733M819.5 696V730M820.5 700V729M821.5 688V734M822.5 693V733M823.5 670V706M823.5 725V743M824.5 680V740M825.5 689V737M826.5 694V736M827.5 686V743M828.5 689V743M829.5 683V744M830.5 672V703M830.5 733V746M831.5 681V746M832.5 693V744M833.5 698V743M834.5 677V708M834.5 729V746M835.5 679V746M836.5 682V746M837.5 679V746M838.5 676V709M838.5 722V746M839.5 678V746M840.5 669V703M840.5 734V748M841.5 683V746M842.5 681V746M843.5 678V746M844.5 678V710M844.5 719V746M845.5 326V387M845.5 688V744M846.5 291V322M846.5 399V511M846.5 669V701M846.5 733V747M847.5 116V155M847.5 194V270M847.5 551V675M847.5 745V752M848.5 291V327M848.5 356V450M848.5 676V705M848.5 729V746M849.5 290V327M849.5 353V438M849.5 683V745M850.5 260V310M850.5 392V461M850.5 682V745M851.5 116V245M851.5 432V514M851.5 671V701M851.5 732V747M852.5 477V687M852.5 742V750M853.5 116V209M853.5 438V520M853.5 674V706M853.5 729V747M854.5 116V191M854.5 446V540M854.5 672V704M854.5 730V747M855.5 116V180M855.5 432V506M855.5 679V746M856.5 116V138M856.5 435V505M856.5 681V746M857.5 544V685M857.5 743V752M858.5 498V687M858.5 743V752M859.5 483V690M859.5 742V752M860.5 504V596M860.5 664V700M860.5 733V749M861.5 505V602M861.5 659V696M861.5 738V751M862.5 497V690M862.5 743V753M863.5 486V598M863.5 659V695M863.5 739V752M864.5 440V510M864.5 670V705M864.5 730V750M865.5 492V599M865.5 659V697M865.5 738V752M866.5 483V587M866.5 666V705M866.5 731V750M867.5 542V696M867.5 738V752M868.5 573V691M868.5 743V753M869.5 472V555M869.5 679V748M870.5 468V554M870.5 677V749M871.5 502V587M871.5 669V710M871.5 714V750M872.5 529V698M872.5 738V752M873.5 520V601M873.5 660V703M873.5 733V752M874.5 502V583M874.5 670V750M875.5 465V525M875.5 677V749M876.5 429V489M876.5 685V748M877.5 465V526M877.5 670V751M878.5 536V684M878.5 746V755M879.5 544V679M879.5 747V756M880.5 527V679M880.5 747V756M881.5 531V678M881.5 747V757M882.5 521V699M882.5 743V754M883.5 485V544M883.5 668V751M884.5 524V691M884.5 745V755M885.5 551V682M885.5 746V756M886.5 565V679M886.5 747V757M887.5 525V683M887.5 746V756M888.5 508V602M888.5 603V696M888.5 744V755M889.5 515V690M889.5 745V756M890.5 490V587M890.5 624V697M890.5 744V755M891.5 500V594M891.5 620V699M891.5 743V755M892.5 509V598M892.5 619V704M892.5 735V754M893.5 490V555M893.5 665V752M894.5 472V527M894.5 666V753M895.5 515V693M895.5 744V756M896.5 510V705M896.5 733V755M897.5 536V691M897.5 744V756M898.5 556V684M898.5 745V757M899.5 448V511M899.5 670V753M900.5 506V594M900.5 630V755M901.5 464V522M901.5 664V754M902.5 400V498M902.5 674V752M903.5 381V487M903.5 667V753M904.5 409V499M904.5 650V707M904.5 730V754M905.5 516V674M905.5 746V757M906.5 489V684M906.5 744V755M907.5 750V758M908.5 756V762M909.5 755V761M910.5 753V759M911.5 755V761M912.5 754V760M913.5 753V760M914.5 583V625M914.5 752V760M915.5 573V641M915.5 753V761M916.5 552V659M916.5 753V761M917.5 486V600M917.5 608V683M917.5 747V758M918.5 511V601M918.5 610V686M918.5 746V758M919.5 509V589M919.5 660V695M919.5 743V758M920.5 494V578M920.5 666V699M920.5 740V757M921.5 509V588M921.5 660V695M921.5 744V759M922.5 524V597M922.5 646V691M922.5 746V759M923.5 519V591M923.5 660V696M923.5 744V758M924.5 514V584M924.5 666V702M924.5 737V756M925.5 517V679M925.5 751V763M926.5 506V584M926.5 662V698M926.5 744V758M927.5 493V576M927.5 666V702M927.5 740V757M928.5 486V573M928.5 666V701M928.5 743V757M929.5 507V586M929.5 658V695M929.5 745V758M930.5 533V681M930.5 750V762M931.5 487V582M931.5 654V692M931.5 747V760M932.5 509V593M932.5 630V687M932.5 748V760M933.5 492V579M933.5 660V697M933.5 745V758M934.5 484V569M934.5 667V704M934.5 741V756M935.5 537V680M935.5 750V762M936.5 508V590M936.5 638V690M936.5 747V759M937.5 518V593M937.5 635V691M937.5 747V759M938.5 543V673M938.5 752V763M939.5 525V680M939.5 750V762M940.5 517V595M940.5 625V688M940.5 748V760M941.5 524V675M941.5 752V763M942.5 501V580M942.5 659V698M942.5 745V758M943.5 502V583M943.5 654V694M943.5 746V759M944.5 408V495M944.5 677V755M945.5 501V581M945.5 656V694M945.5 746V759M946.5 576V669M946.5 753V763M947.5 541V672M947.5 753V764M948.5 543V683M948.5 749V761M949.5 547V673M949.5 752V763M950.5 512V590M950.5 641V693M950.5 747V759M951.5 515V599M951.5 614V688M951.5 748V760M952.5 520V681M952.5 750V762M953.5 506V591M953.5 623V688M953.5 749V761M954.5 538V675M954.5 752V763M955.5 524V666M955.5 755V764M956.5 594V658M956.5 756V764M957.5 582V662M957.5 755V764M958.5 544V669M958.5 754V764M959.5 545V676M959.5 751V763M960.5 530V677M960.5 751V763M961.5 585V663M961.5 755V764M962.5 534V677M962.5 750V763M963.5 533V679M963.5 749V762M964.5 559V675M964.5 750V763M965.5 597V659M965.5 756V764M966.5 581V674M966.5 750V763M967.5 581V669M967.5 753V764M968.5 564V678M968.5 750V764M969.5 583V670M969.5 753V764M970.5 590V666M970.5 754V764M971.5 504V580M971.5 661V699M971.5 744V760M972.5 497V580M972.5 658V697M972.5 746V762M973.5 521V595M973.5 634V692M973.5 748V763M974.5 590V663M974.5 756V764M975.5 590V665M975.5 755V764M976.5 583V673M976.5 753V764M977.5 576V675M977.5 754V764M978.5 523V591M978.5 655V692M978.5 748V762M979.5 578V678M979.5 752V764M980.5 759V764M981.5 594V662M981.5 757V764M982.5 571V678M982.5 753V764M983.5 517V590M983.5 647V685M983.5 751V763M984.5 542V597M984.5 630V681M984.5 752V764M985.5 581V668M985.5 756V764M986.5 588V669M986.5 755V764M987.5 588V667M987.5 756V764M988.5 587V666M988.5 756V764M989.5 584V668M989.5 756V764M990.5 548V594M990.5 644V680M990.5 752V763M991.5 585V670M991.5 755V764M992.5 578V675M992.5 754V764M993.5 582V672M993.5 755V764M994.5 589V666M994.5 758V764M995.5 598V657M995.5 761V764M996.5 581V663M996.5 761V764M997.5 574V671M997.5 758V764M998.5 596V659M998.5 762V764M999.5 601V621M1000.5 600V629M1001.5 583V666M1001.5 761V764M1002.5 499V579M1002.5 661V682M1002.5 756V764M1003.5 580V667M1003.5 761V764M1004.5 597V658M1007.5 589V659M1008.5 586V661M1008.5 763V764M1009.5 581V664M1009.5 762V764M1011.5 598V637M1011.5 763V764M1012.5 585V660M1012.5 762V764M1013.5 600V615M1014.5 591V651M1014.5 762V764M1016.5 582V662M1016.5 759V764M1017.5 592V646M1017.5 759V764M1018.5 761V764"/>
<path stroke="#FFBF00" d="M428.5 116V179M443.5 116V189M445.5 116V194M451.5 116V146M467.5 116V142M468.5 116V186M470.5 116V200M471.5 154V215M472.5 182V229M473.5 242V296M474.5 116V191M475.5 175V224M476.5 176V219M477.5 181V222M478.5 177V220M479.5 116V180M480.5 116V204M481.5 184V232M482.5 131V216M483.5 143V220M484.5 179V261M485.5 196V280M486.5 217V289M487.5 189V255M488.5 116V208M489.5 171V217M490.5 188V269M491.5 198V289M492.5 252V300M493.5 222V299M494.5 179V222M495.5 183V235M496.5 203V286M497.5 280V304M498.5 201V285M499.5 188V257M500.5 199V283M501.5 191V276M502.5 182V223M503.5 191V283M504.5 183V279M505.5 210V293M506.5 210V289M507.5 195V264M508.5 179V215M509.5 183V221M510.5 205V288M511.5 178V213M512.5 176V210M513.5 116V134M515.5 182V216M516.5 178V211M517.5 116V157M518.5 116V176M519.5 116V192M520.5 180V216M521.5 223V310M522.5 187V223M523.5 194V268M524.5 116V190M525.5 116V181M526.5 116V188M527.5 178V221M528.5 203V282M529.5 191V247M530.5 190V284M531.5 175V220M532.5 116V205M533.5 116V204M534.5 116V190M535.5 228V312M535.5 706V748M536.5 192V287M537.5 213V297M538.5 234V305M538.5 710V720M538.5 738V743M539.5 116V210M540.5 178V291M541.5 178V284M542.5 116V206M543.5 126V261M544.5 206V291M545.5 222V303M545.5 707V747M546.5 116V290M547.5 190V290M548.5 251V307M548.5 707V748M549.5 181V294M549.5 722V745M550.5 116V216M551.5 116V180M552.5 116V247M553.5 127V177M554.5 198V309M554.5 710V745M555.5 210V271M555.5 280V318M555.5 730V744M556.5 201V314M557.5 195V289M558.5 116V197M559.5 329V372M559.5 701V752M560.5 291V329M561.5 179V310M562.5 116V303M563.5 220V229M563.5 288V322M563.5 710V745M564.5 307V337M564.5 708V747M565.5 304V333M565.5 709V746M566.5 292V320M567.5 290V317M568.5 294V321M569.5 314V342M569.5 709V746M570.5 314V339M570.5 708V746M571.5 294V319M572.5 342V370M572.5 699V751M573.5 349V377M573.5 700V749M574.5 342V371M574.5 707V745M575.5 326V351M575.5 708V745M576.5 322V348M576.5 706V745M577.5 324V353M577.5 700V749M578.5 328V359M579.5 313V349M580.5 307V342M580.5 710V743M581.5 336V362M581.5 701V747M582.5 311V342M582.5 705V745M583.5 342V367M583.5 700V747M584.5 324V350M584.5 703V746M585.5 328V353M585.5 701V747M586.5 334V359M586.5 699V747M587.5 339V365M587.5 698V747M588.5 368V402M588.5 688V750M589.5 336V363M589.5 710V735M590.5 321V348M591.5 323V350M592.5 323V350M593.5 291V318M594.5 335V366M595.5 345V372M596.5 362V397M597.5 371V417M598.5 371V417M599.5 350V379M600.5 387V447M601.5 408V460M602.5 364V402M603.5 336V367M604.5 321V350M605.5 347V378M606.5 355V384M607.5 316V343M608.5 343V371M609.5 353V381M610.5 357V384M611.5 354V382M612.5 371V409M613.5 378V427M614.5 367V403M615.5 366V397M616.5 366V396M617.5 362V389M618.5 352V378M619.5 372V409M620.5 379V425M621.5 373V411M622.5 361V386M623.5 335V361M624.5 368V399M625.5 353V378M626.5 349V374M627.5 371V405M628.5 393V454M629.5 378V431M630.5 349V373M631.5 339V364M632.5 369V404M633.5 393V458M634.5 415V482M635.5 367V397M636.5 378V428M637.5 360V382M638.5 359V382M639.5 372V410M640.5 374V419M641.5 321V345M642.5 337V362M643.5 366V392M644.5 370V403M645.5 375V416M646.5 378V425M647.5 374V413M648.5 375V416M649.5 385V447M650.5 375V418M651.5 376V420M652.5 376V421M653.5 362V384M654.5 386V456M655.5 384V442M656.5 383V436M657.5 406V476M658.5 435V521M658.5 607V723M659.5 409V493M659.5 502V515M659.5 560V734M660.5 379V435M661.5 383V457M661.5 626V728M662.5 360V385M663.5 363V392M664.5 371V415M665.5 371V418M666.5 341V371M667.5 376V427M668.5 354V383M669.5 354V383M670.5 358V387M671.5 351V383M672.5 369V423M673.5 376V437M674.5 347V381M675.5 326V358M676.5 319V346M677.5 339V375M678.5 361V404M679.5 347V384M680.5 371V425M681.5 363V409M682.5 340V375M683.5 300V323M684.5 321V354M685.5 317V345M686.5 340V381M687.5 340V380M688.5 330V370M689.5 319V354M690.5 293V320M691.5 315V345M692.5 329V365M693.5 332V372M694.5 334V375M695.5 334V371M696.5 329V370M697.5 351V386M698.5 344V383M699.5 349V389M700.5 356V402M701.5 361V413M702.5 334V372M703.5 352V397M704.5 359V415M705.5 357V408M706.5 353V393M707.5 340V378M708.5 336V373M709.5 360V426M710.5 393V479M711.5 372V447M712.5 346V385M713.5 340V374M714.5 342V385M715.5 363V438M716.5 357V414M717.5 361V423M718.5 354V407M719.5 304V331M720.5 323V364M721.5 326V369M722.5 367V450M723.5 349V414M724.5 326V369M725.5 324V365M726.5 345V396M727.5 383V499M728.5 313V344M729.5 299V324M730.5 304V328M731.5 341V384M732.5 334V376M733.5 330V375M734.5 319V355M735.5 316V349M736.5 320V353M737.5 342V383M738.5 368V496M739.5 338V378M740.5 319V353M741.5 323V363M742.5 333V379M743.5 312V378M744.5 342V424M745.5 317V378M746.5 269V353M747.5 155V356M748.5 116V354M749.5 116V291M750.5 116V336M751.5 136V245M751.5 311V499M755.5 116V155M755.5 235V333M756.5 116V341M757.5 116V369M757.5 412V458M759.5 430V448M760.5 311V479M797.5 699V721M805.5 329V536M805.5 678V729M817.5 698V727M823.5 706V725M830.5 703V733M834.5 708V729M838.5 709V722M840.5 703V734M844.5 710V719M846.5 322V399M846.5 701V733M847.5 270V303M847.5 441V551M847.5 675V708M847.5 721V745M848.5 327V356M848.5 705V729M849.5 327V353M850.5 310V392M851.5 245V314M851.5 364V432M851.5 701V732M852.5 116V257M852.5 409V477M852.5 687V742M853.5 209V300M853.5 369V438M853.5 706V729M854.5 191V271M854.5 386V446M854.5 704V730M855.5 180V263M855.5 335V432M856.5 138V218M856.5 365V435M857.5 464V544M857.5 685V743M858.5 430V498M858.5 687V743M859.5 422V483M859.5 690V742M860.5 442V504M860.5 700V733M861.5 116V117M861.5 440V505M861.5 696V738M862.5 433V497M862.5 690V743M863.5 428V486M863.5 695V739M864.5 391V440M864.5 705V730M865.5 116V136M865.5 434V492M865.5 697V738M866.5 116V135M866.5 428V483M866.5 705V731M867.5 470V542M867.5 696V738M868.5 495V573M868.5 691V743M869.5 116V132M869.5 418V472M870.5 116V164M870.5 409V468M871.5 449V502M871.5 710V714M872.5 472V529M872.5 698V738M873.5 467V520M873.5 703V733M874.5 449V502M875.5 409V465M876.5 363V429M877.5 405V465M878.5 476V536M878.5 684V746M879.5 481V544M879.5 679V747M880.5 471V527M880.5 679V747M881.5 475V531M881.5 678V747M882.5 474V521M882.5 699V743M883.5 426V485M884.5 478V524M884.5 691V745M885.5 499V551M885.5 682V746M886.5 504V565M886.5 679V747M887.5 476V525M887.5 683V746M888.5 450V508M888.5 696V744M889.5 463V515M889.5 690V745M890.5 422V490M890.5 697V744M891.5 442V500M891.5 699V743M892.5 457V509M892.5 704V735M893.5 427V490M894.5 382V472M895.5 460V515M895.5 693V744M896.5 458V510M896.5 705V733M897.5 489V536M897.5 691V744M898.5 498V556M898.5 684V745M899.5 356V448M900.5 452V506M901.5 370V464M902.5 344V400M903.5 337V381M904.5 348V409M904.5 707V730M905.5 453V516M905.5 674V746M906.5 398V489M906.5 684V744M907.5 490V702M907.5 729V750M908.5 747V756M909.5 572V650M909.5 746V755M910.5 475V672M910.5 743V753M911.5 593V617M911.5 746V755M912.5 473V669M912.5 744V754M913.5 491V677M913.5 743V753M914.5 452V583M914.5 625V689M914.5 739V752M915.5 450V573M915.5 641V691M915.5 739V753M916.5 452V552M916.5 659V696M916.5 736V753M917.5 391V486M917.5 683V747M918.5 454V511M918.5 686V746M919.5 454V509M919.5 695V743M920.5 438V494M920.5 699V740M921.5 454V509M921.5 695V744M922.5 471V524M922.5 691V746M923.5 467V519M923.5 696V744M924.5 464V514M924.5 702V737M925.5 454V517M925.5 679V751M926.5 452V506M926.5 698V744M927.5 434V493M927.5 702V740M928.5 405V486M928.5 701V743M929.5 454V507M929.5 695V745M930.5 471V533M930.5 681V750M931.5 406V487M931.5 692V747M932.5 451V509M932.5 687V748M933.5 436V492M933.5 697V745M934.5 419V484M934.5 704V741M935.5 474V537M935.5 680V750M936.5 453V508M936.5 690V747M937.5 462V518M937.5 691V747M938.5 471V543M938.5 673V752M939.5 468V525M939.5 680V750M940.5 463V517M940.5 688V748M941.5 466V524M941.5 675V752M942.5 445V501M942.5 698V745M943.5 445V502M943.5 694V746M944.5 351V408M945.5 444V501M945.5 694V746M946.5 510V576M946.5 669V710M946.5 711V753M947.5 488V541M947.5 672V753M948.5 497V543M948.5 683V749M949.5 497V547M949.5 673V752M950.5 463V512M950.5 693V747M951.5 468V515M951.5 688V748M952.5 477V520M952.5 681V750M953.5 449V506M953.5 688V749M954.5 498V538M954.5 675V752M955.5 477V524M955.5 666V703M955.5 740V755M956.5 520V594M956.5 658V697M956.5 743V756M957.5 513V582M957.5 662V700M957.5 739V755M958.5 498V544M958.5 669V705M958.5 732V754M959.5 502V545M959.5 676V751M960.5 493V530M960.5 677V751M961.5 518V585M961.5 663V697M961.5 737V755M962.5 495V534M962.5 677V710M962.5 716V750M963.5 495V533M963.5 679V749M964.5 505V559M964.5 675V707M964.5 728V750M965.5 540V597M965.5 659V691M965.5 740V756M966.5 525V581M966.5 674V706M966.5 728V750M967.5 519V581M967.5 669V702M967.5 732V753M968.5 505V564M968.5 678V750M969.5 521V583M969.5 670V707M969.5 728V753M970.5 530V590M970.5 666V705M970.5 730V754M971.5 423V504M971.5 699V744M972.5 386V497M972.5 697V746M973.5 461V521M973.5 692V748M974.5 526V590M974.5 663V706M974.5 731V756M975.5 532V590M975.5 665V707M975.5 729V755M976.5 521V583M976.5 673V753M977.5 509V576M977.5 675V754M978.5 472V523M978.5 692V748M979.5 518V578M979.5 678V752M980.5 578V688M980.5 746V759M981.5 556V594M981.5 662V697M981.5 744V757M982.5 502V571M982.5 678V710M982.5 724V753M983.5 454V517M983.5 685V751M984.5 481V542M984.5 681V752M985.5 516V581M985.5 668V698M985.5 744V756M986.5 545V588M986.5 669V699M986.5 743V755M987.5 547V588M987.5 667V697M987.5 744V756M988.5 538V587M988.5 666V694M988.5 745V756M989.5 526V584M989.5 668V695M989.5 745V756M990.5 485V548M990.5 680V707M990.5 734V752M991.5 538V585M991.5 670V697M991.5 744V755M992.5 522V578M992.5 675V702M992.5 742V754M993.5 531V582M993.5 672V699M993.5 744V755M994.5 552V589M994.5 666V692M994.5 747V758M995.5 570V598M995.5 657V682M995.5 751V761M996.5 508V581M996.5 663V687M996.5 750V761M997.5 506V574M997.5 671V694M997.5 747V758M998.5 565V596M998.5 659V683M998.5 751V762M999.5 573V601M999.5 621V678M999.5 754V764M1000.5 568V600M1000.5 629V677M1000.5 755V764M1001.5 522V583M1001.5 666V689M1001.5 751V761M1002.5 418V499M1002.5 682V704M1002.5 743V756M1003.5 516V580M1003.5 667V689M1003.5 751V761M1004.5 564V597M1004.5 658V680M1004.5 755V764M1005.5 577V674M1005.5 757V764M1006.5 579V672M1006.5 758V764M1007.5 523V589M1007.5 659V683M1007.5 754V764M1008.5 517V586M1008.5 661V685M1008.5 753V763M1009.5 510V581M1009.5 664V690M1009.5 750V762M1010.5 571V679M1010.5 754V764M1011.5 542V598M1011.5 637V684M1011.5 752V763M1012.5 510V585M1012.5 660V690M1012.5 748V762M1013.5 533V600M1013.5 615V684M1013.5 751V764M1014.5 515V591M1014.5 651V691M1014.5 747V762M1015.5 540V680M1015.5 751V764M1016.5 505V582M1016.5 662V703M1016.5 735V759M1017.5 516V592M1017.5 646V700M1017.5 737V759M1018.5 536V691M1018.5 742V761"/>
<path stroke="#FF7F00" d="M471.5 116V154M472.5 116V182M473.5 191V242M475.5 116V175M476.5 116V176M477.5 116V181M478.5 116V177M481.5 116V184M482.5 116V131M483.5 116V143M484.5 116V179M485.5 116V196M486.5 176V217M487.5 116V189M489.5 116V171M490.5 116V188M491.5 116V198M492.5 187V252M493.5 175V222M494.5 116V179M495.5 116V183M496.5 116V203M497.5 195V280M498.5 116V201M499.5 116V188M500.5 116V199M501.5 116V191M502.5 116V182M503.5 116V191M504.5 116V183M505.5 171V210M506.5 175V210M507.5 116V195M508.5 116V179M509.5 116V183M510.5 171V205M511.5 116V178M512.5 116V176M515.5 116V182M516.5 116V178M520.5 116V180M521.5 188V223M522.5 116V187M523.5 116V194M527.5 116V178M528.5 149V203M529.5 116V191M530.5 116V190M531.5 116V175M535.5 171V228M536.5 116V192M537.5 116V213M538.5 148V234M540.5 116V178M541.5 116V178M543.5 116V126M544.5 116V206M545.5 116V222M547.5 116V190M548.5 116V251M549.5 116V181M554.5 116V198M555.5 116V210M555.5 271V280M556.5 116V201M557.5 116V195M559.5 291V329M560.5 116V291M561.5 116V179M563.5 116V220M563.5 229V288M564.5 194V307M565.5 116V304M566.5 116V292M567.5 116V290M568.5 116V294M569.5 116V188M569.5 289V314M570.5 290V314M571.5 116V294M572.5 318V342M573.5 323V349M574.5 317V342M575.5 305V326M576.5 298V322M577.5 289V324M578.5 218V328M579.5 212V313M580.5 221V307M581.5 303V336M582.5 277V311M583.5 315V342M584.5 297V324M585.5 303V328M586.5 310V334M587.5 313V339M588.5 343V368M589.5 312V336M590.5 295V321M591.5 298V323M592.5 298V323M593.5 116V291M594.5 308V335M595.5 320V345M596.5 333V362M597.5 342V371M598.5 343V371M599.5 322V350M600.5 358V387M601.5 368V408M602.5 335V364M603.5 311V336M604.5 295V321M605.5 319V347M606.5 327V355M607.5 292V316M608.5 317V343M609.5 326V353M610.5 329V357M611.5 326V354M612.5 345V371M613.5 353V378M614.5 340V367M615.5 340V366M616.5 341V366M617.5 337V362M618.5 324V352M619.5 348V372M620.5 355V379M621.5 349V373M622.5 337V361M623.5 306V335M624.5 343V368M625.5 327V353M626.5 323V349M627.5 347V371M628.5 366V393M629.5 353V378M630.5 326V349M631.5 314V339M632.5 346V369M633.5 366V393M634.5 374V415M635.5 345V367M636.5 355V378M637.5 338V360M638.5 337V359M639.5 349V372M640.5 352V374M641.5 298V321M642.5 312V337M643.5 343V366M644.5 348V370M645.5 353V375M646.5 357V378M647.5 352V374M648.5 354V375M649.5 365V385M650.5 354V375M651.5 355V376M652.5 355V376M653.5 340V362M654.5 366V386M655.5 364V384M656.5 363V383M657.5 372V406M658.5 381V435M659.5 371V409M660.5 356V379M661.5 358V383M662.5 335V360M663.5 338V363M664.5 345V371M665.5 345V371M666.5 319V341M667.5 349V376M668.5 329V354M669.5 329V354M670.5 331V358M671.5 324V351M672.5 336V369M673.5 344V376M674.5 319V347M675.5 304V326M676.5 298V319M677.5 315V339M678.5 329V361M679.5 318V347M680.5 336V371M681.5 330V363M682.5 315V340M683.5 244V300M684.5 297V321M685.5 293V317M686.5 311V340M687.5 311V340M688.5 305V330M689.5 293V319M690.5 116V293M691.5 290V315M692.5 305V329M693.5 307V332M694.5 307V334M695.5 310V334M696.5 302V329M697.5 322V351M698.5 315V344M699.5 318V349M700.5 323V356M701.5 327V361M702.5 308V334M703.5 319V352M704.5 323V359M705.5 324V357M706.5 321V353M707.5 311V340M708.5 309V336M709.5 325V360M710.5 353V393M711.5 335V372M712.5 316V346M713.5 315V340M714.5 312V342M715.5 326V363M716.5 324V357M717.5 326V361M718.5 322V354M719.5 199V304M720.5 297V323M721.5 301V326M722.5 327V367M723.5 317V349M724.5 301V326M725.5 300V324M726.5 317V345M727.5 341V383M728.5 221V233M728.5 288V313M729.5 199V299M730.5 216V266M730.5 280V304M731.5 314V341M732.5 311V334M733.5 306V330M734.5 294V319M735.5 291V316M736.5 296V320M737.5 315V342M738.5 327V368M739.5 313V338M740.5 294V319M741.5 290V323M742.5 287V333M743.5 116V312M744.5 251V342M745.5 136V317M746.5 116V269M747.5 116V155M751.5 116V136M751.5 245V311M847.5 303V441M847.5 708V721M851.5 314V364M852.5 257V409M853.5 300V369M854.5 271V386M855.5 263V335M856.5 218V365M857.5 116V132M857.5 411V464M858.5 116V165M858.5 353V430M859.5 116V153M859.5 341V422M860.5 116V166M860.5 393V442M861.5 117V168M861.5 390V440M862.5 116V167M862.5 368V433M863.5 116V161M863.5 361V428M864.5 116V171M864.5 317V391M865.5 136V187M865.5 361V434M866.5 135V188M866.5 351V428M867.5 116V154M867.5 418V470M868.5 116V128M868.5 446V495M869.5 132V191M869.5 336V418M870.5 164V223M870.5 319V409M871.5 116V145M871.5 395V449M872.5 419V472M873.5 116V117M873.5 413V467M874.5 116V128M874.5 393V449M875.5 116V144M875.5 339V409M876.5 116V203M876.5 308V363M877.5 341V405M878.5 416V476M879.5 420V481M880.5 409V471M881.5 413V475M882.5 413V474M883.5 364V426M884.5 414V478M885.5 443V499M886.5 451V504M887.5 407V476M888.5 374V450M889.5 396V463M890.5 361V422M891.5 371V442M892.5 382V457M893.5 358V427M894.5 331V382M895.5 370V460M896.5 377V458M897.5 422V489M898.5 442V498M899.5 315V356M900.5 363V452M901.5 328V370M902.5 310V344M903.5 306V337M904.5 313V348M905.5 362V453M906.5 342V398M907.5 427V490M907.5 702V729M908.5 490V702M908.5 727V747M909.5 457V572M909.5 650V709M909.5 715V746M910.5 380V475M910.5 672V743M911.5 458V593M911.5 617V699M911.5 729V746M912.5 381V473M912.5 669V744M913.5 438V491M913.5 677V743M914.5 368V452M914.5 689V739M915.5 368V450M915.5 691V739M916.5 370V452M916.5 696V736M917.5 350V391M918.5 374V454M919.5 366V454M920.5 362V438M921.5 371V454M922.5 381V471M923.5 381V467M924.5 378V464M925.5 372V454M926.5 369V452M927.5 358V434M928.5 353V405M929.5 376V454M930.5 384V471M931.5 355V406M932.5 370V451M933.5 364V436M934.5 361V419M935.5 400V474M936.5 377V453M937.5 377V462M938.5 386V471M939.5 384V468M940.5 381V463M941.5 379V466M942.5 364V445M943.5 362V445M944.5 323V351M945.5 363V444M946.5 461V510M946.5 710V711M947.5 406V488M948.5 442V497M949.5 436V497M950.5 374V463M951.5 378V468M952.5 382V477M953.5 364V449M954.5 424V498M955.5 377V477M955.5 703V740M956.5 485V520M956.5 697V743M957.5 466V513M957.5 700V739M958.5 404V498M958.5 705V732M959.5 434V502M960.5 385V493M961.5 475V518M961.5 697V737M962.5 399V495M962.5 710V716M963.5 400V495M964.5 448V505M964.5 707V728M965.5 502V540M965.5 691V740M966.5 494V525M966.5 706V728M967.5 475V519M967.5 702V732M968.5 441V505M969.5 479V521M969.5 707V728M970.5 495V530M970.5 705V730M971.5 365V423M972.5 359V386M973.5 371V461M974.5 482V526M974.5 706V731M975.5 491V532M975.5 707V729M976.5 476V521M977.5 444V509M978.5 379V472M979.5 470V518M980.5 525V578M980.5 688V746M981.5 504V556M981.5 697V744M982.5 410V502M982.5 710V724M983.5 373V454M984.5 379V481M985.5 458V516M985.5 698V744M986.5 500V545M986.5 699V743M987.5 500V547M987.5 697V744M988.5 492V538M988.5 694V745M989.5 482V526M989.5 695V745M990.5 381V485M990.5 707V734M991.5 495V538M991.5 697V744M992.5 480V522M992.5 702V742M993.5 493V531M993.5 699V744M994.5 504V552M994.5 692V747M995.5 510V570M995.5 682V707M995.5 730V751M996.5 438V508M996.5 687V750M997.5 441V506M997.5 694V747M998.5 509V565M998.5 683V707M998.5 730V751M999.5 514V573M999.5 678V702M999.5 740V754M1000.5 505V568M1000.5 677V700M1000.5 743V755M1001.5 474V522M1001.5 689V751M1002.5 369V418M1002.5 704V743M1003.5 462V516M1003.5 689V751M1004.5 509V564M1004.5 680V703M1004.5 741V755M1005.5 520V577M1005.5 674V697M1005.5 745V757M1006.5 520V579M1006.5 672V695M1006.5 746V758M1007.5 468V523M1007.5 683V707M1007.5 732V754M1008.5 453V517M1008.5 685V710M1008.5 716V753M1009.5 447V510M1009.5 690V750M1010.5 510V571M1010.5 679V708M1010.5 728V754M1011.5 489V542M1011.5 684V752M1012.5 442V510M1012.5 690V748M1013.5 477V533M1013.5 684V751M1014.5 448V515M1014.5 691V747M1015.5 479V540M1015.5 680V751M1016.5 436V505M1016.5 703V735M1017.5 458V516M1017.5 700V737M1018.5 484V536M1018.5 691V742"/>
<path stroke="#FF3F00" d="M473.5 116V191M486.5 116V176M492.5 116V187M493.5 116V175M497.5 116V195M505.5 116V171M506.5 116V175M510.5 116V171M521.5 116V188M528.5 116V149M535.5 116V171M538.5 116V148M559.5 172V291M564.5 116V194M569.5 188V289M570.5 116V290M572.5 295V318M573.5 301V323M574.5 129V172M574.5 294V317M575.5 116V189M575.5 284V305M576.5 116V298M577.5 171V289M578.5 116V218M579.5 116V212M580.5 116V221M581.5 219V303M582.5 116V277M583.5 287V315M584.5 212V297M585.5 271V303M586.5 286V310M587.5 288V313M588.5 319V343M589.5 287V312M590.5 116V131M590.5 178V295M591.5 200V298M592.5 205V298M594.5 221V229M594.5 281V308M595.5 298V320M596.5 309V333M597.5 317V342M598.5 318V343M599.5 298V322M600.5 331V358M601.5 340V368M602.5 313V335M603.5 287V311M604.5 116V295M605.5 294V319M606.5 304V327M607.5 192V292M608.5 292V317M609.5 301V326M610.5 304V329M611.5 299V326M612.5 319V345M613.5 327V353M614.5 313V340M615.5 313V340M616.5 315V341M617.5 309V337M618.5 292V324M619.5 321V348M620.5 330V355M621.5 324V349M622.5 310V337M623.5 215V306M624.5 318V343M625.5 298V327M626.5 295V323M627.5 322V347M628.5 343V366M629.5 326V353M630.5 303V326M631.5 289V314M632.5 323V346M633.5 344V366M634.5 352V374M635.5 322V345M636.5 332V355M637.5 318V338M638.5 315V337M639.5 327V349M640.5 329V352M641.5 192V298M642.5 287V312M643.5 320V343M644.5 326V348M645.5 332V353M646.5 335V357M647.5 331V352M648.5 333V354M649.5 344V365M650.5 333V354M651.5 333V355M652.5 333V355M653.5 305V340M654.5 345V366M655.5 345V364M656.5 343V363M657.5 352V372M658.5 360V381M659.5 348V371M660.5 333V356M661.5 332V358M662.5 311V335M663.5 315V338M664.5 321V345M665.5 322V345M666.5 299V319M667.5 326V349M668.5 312V329M669.5 314V329M670.5 315V331M671.5 305V324M672.5 314V336M673.5 318V344M674.5 297V319M675.5 282V304M676.5 257V298M677.5 294V315M678.5 309V329M679.5 296V318M680.5 314V336M681.5 309V330M682.5 294V315M683.5 116V244M684.5 170V297M685.5 155V293M686.5 286V311M687.5 224V225M687.5 286V311M688.5 189V269M688.5 280V305M689.5 116V293M691.5 116V290M692.5 217V250M692.5 280V305M693.5 204V256M693.5 281V307M694.5 184V267M694.5 280V307M695.5 286V310M696.5 116V302M697.5 298V322M698.5 289V315M699.5 293V318M700.5 298V323M701.5 302V327M702.5 220V236M702.5 282V308M703.5 293V319M704.5 296V323M705.5 298V324M706.5 296V321M707.5 284V311M708.5 283V309M709.5 298V325M710.5 323V353M711.5 309V335M712.5 290V316M713.5 294V315M714.5 214V244M714.5 285V312M715.5 301V326M716.5 300V324M717.5 303V326M718.5 299V322M719.5 116V199M720.5 175V297M721.5 191V301M722.5 304V327M723.5 293V317M724.5 192V301M725.5 199V300M726.5 294V317M727.5 316V341M728.5 173V221M728.5 233V288M729.5 125V199M730.5 173V216M730.5 266V280M731.5 292V314M732.5 288V311M733.5 214V262M733.5 281V306M734.5 189V294M735.5 191V291M736.5 206V296M737.5 292V315M738.5 302V327M739.5 290V313M740.5 206V294M741.5 196V290M742.5 170V287M744.5 116V251M745.5 116V136M857.5 132V198M857.5 322V411M858.5 165V233M858.5 293V353M859.5 153V218M859.5 295V341M860.5 166V226M860.5 302V393M861.5 168V228M861.5 301V390M862.5 167V227M862.5 298V368M863.5 161V221M863.5 299V361M864.5 171V270M864.5 280V317M865.5 187V250M865.5 293V361M866.5 188V252M866.5 292V351M867.5 154V204M867.5 331V418M868.5 128V180M868.5 393V446M869.5 191V262M869.5 288V336M870.5 223V319M871.5 145V211M871.5 318V395M872.5 116V180M872.5 345V419M873.5 117V185M873.5 336V413M874.5 128V205M874.5 320V393M875.5 144V242M875.5 294V339M876.5 203V308M877.5 116V224M877.5 298V341M878.5 116V136M878.5 349V416M879.5 355V420M880.5 348V409M881.5 353V413M882.5 116V133M882.5 346V413M883.5 116V135M883.5 315V364M884.5 349V414M885.5 375V443M886.5 382V451M887.5 347V407M888.5 116V121M888.5 322V374M889.5 348V396M890.5 321V361M891.5 328V371M892.5 336V382M893.5 316V358M894.5 116V240M894.5 295V331M895.5 323V370M896.5 333V377M897.5 354V422M898.5 355V442M899.5 116V266M899.5 283V315M900.5 322V363M901.5 299V328M902.5 116V272M902.5 280V310M903.5 116V306M904.5 116V260M904.5 283V313M905.5 323V362M906.5 116V150M906.5 305V342M907.5 351V427M908.5 427V490M908.5 702V727M909.5 368V457M909.5 709V715M910.5 338V380M911.5 370V458M911.5 699V729M912.5 344V381M913.5 360V438M914.5 332V368M915.5 334V368M916.5 337V370M917.5 318V350M918.5 341V374M919.5 329V366M920.5 329V362M921.5 337V371M922.5 346V381M923.5 346V381M924.5 343V378M925.5 339V372M926.5 333V369M927.5 326V358M928.5 324V353M929.5 343V376M930.5 351V384M931.5 326V355M932.5 336V370M933.5 331V364M934.5 330V361M935.5 359V400M936.5 344V377M937.5 340V377M938.5 354V386M939.5 353V384M940.5 349V381M941.5 347V379M942.5 330V364M943.5 329V362M944.5 304V323M945.5 330V363M946.5 378V461M947.5 359V406M948.5 362V442M949.5 363V436M950.5 339V374M951.5 345V378M952.5 350V382M953.5 331V364M954.5 357V424M955.5 345V377M956.5 385V485M957.5 375V466M958.5 357V404M959.5 356V434M960.5 353V385M961.5 379V475M962.5 358V399M963.5 359V400M964.5 368V448M965.5 441V502M966.5 386V494M967.5 379V475M968.5 363V441M969.5 380V479M970.5 393V495M971.5 337V365M972.5 333V359M973.5 343V371M974.5 380V482M975.5 386V491M976.5 382V476M977.5 368V444M978.5 353V379M979.5 379V470M980.5 492V525M981.5 442V504M982.5 363V410M983.5 348V373M984.5 353V379M985.5 374V458M986.5 433V500M987.5 423V500M988.5 385V492M989.5 382V482M990.5 356V381M991.5 385V495M992.5 380V480M993.5 386V493M994.5 445V504M995.5 451V510M995.5 707V730M996.5 372V438M997.5 371V441M998.5 454V509M998.5 707V730M999.5 458V514M999.5 702V740M1000.5 434V505M1000.5 700V743M1001.5 385V474M1002.5 345V369M1003.5 382V462M1004.5 452V509M1004.5 703V741M1005.5 474V520M1005.5 697V745M1006.5 470V520M1006.5 695V746M1007.5 385V468M1007.5 707V732M1008.5 380V453M1008.5 710V716M1009.5 382V447M1010.5 450V510M1010.5 708V728M1011.5 408V489M1012.5 379V442M1013.5 386V477M1014.5 378V448M1015.5 393V479M1016.5 377V436M1017.5 383V458M1018.5 404V484"/>
<path stroke="#FF0000" d="M559.5 116V172M572.5 116V295M573.5 116V301M574.5 116V129M574.5 172V294M575.5 189V284M577.5 116V171M581.5 116V219M583.5 180V287M584.5 116V212M585.5 116V271M586.5 172V286M587.5 116V288M588.5 295V319M589.5 116V287M590.5 131V178M591.5 116V200M592.5 116V205M594.5 116V221M594.5 229V281M595.5 244V298M596.5 284V309M597.5 293V317M598.5 295V318M599.5 187V298M600.5 309V331M601.5 317V340M602.5 291V313M603.5 116V287M605.5 116V294M606.5 280V304M607.5 116V192M608.5 188V292M609.5 220V301M610.5 254V304M611.5 198V299M612.5 294V319M613.5 301V327M614.5 285V313M615.5 286V313M616.5 289V315M617.5 281V309M618.5 179V292M619.5 292V321M620.5 299V330M621.5 295V324M622.5 282V310M623.5 146V215M624.5 290V318M625.5 177V298M626.5 180V295M627.5 297V322M628.5 319V343M629.5 299V326M630.5 219V258M630.5 280V303M631.5 159V289M632.5 300V323M633.5 321V344M634.5 330V352M635.5 301V322M636.5 311V332M637.5 298V318M638.5 295V315M639.5 305V327M640.5 307V329M641.5 134V192M642.5 145V287M643.5 297V320M644.5 303V326M645.5 309V332M646.5 312V335M647.5 307V331M648.5 310V333M649.5 322V344M650.5 305V333M651.5 302V333M652.5 298V333M653.5 200V305M654.5 317V345M655.5 317V345M656.5 317V343M657.5 331V352M658.5 338V360M659.5 323V348M660.5 305V333M661.5 305V332M662.5 286V311M663.5 292V315M664.5 300V321M665.5 302V322M666.5 279V299M667.5 310V326M668.5 296V312M669.5 298V314M670.5 299V315M671.5 287V305M672.5 293V314M673.5 297V318M674.5 213V297M675.5 116V282M676.5 116V257M677.5 198V294M678.5 289V309M679.5 177V296M680.5 293V314M681.5 288V309M682.5 202V294M684.5 116V170M685.5 116V155M686.5 116V286M687.5 116V224M687.5 225V286M688.5 116V189M688.5 269V280M692.5 116V217M692.5 250V280M693.5 116V204M693.5 256V281M694.5 116V184M694.5 267V280M695.5 121V286M697.5 211V298M698.5 116V289M699.5 116V293M700.5 176V298M701.5 191V302M702.5 116V220M702.5 236V282M703.5 116V293M704.5 116V296M705.5 143V298M706.5 180V296M707.5 116V284M708.5 116V283M709.5 116V298M710.5 298V323M711.5 284V309M712.5 156V290M713.5 215V294M714.5 116V214M714.5 244V285M715.5 195V301M716.5 208V300M717.5 219V253M717.5 281V303M718.5 208V299M720.5 116V175M721.5 116V191M722.5 208V267M722.5 281V304M723.5 182V293M724.5 116V192M725.5 120V199M726.5 199V294M727.5 295V316M728.5 116V173M729.5 116V125M730.5 116V173M731.5 199V292M732.5 195V288M733.5 165V214M733.5 262V281M734.5 116V189M735.5 116V191M736.5 155V206M737.5 206V292M738.5 207V302M739.5 207V290M740.5 152V206M741.5 116V196M742.5 116V170M857.5 198V322M858.5 233V293M859.5 218V295M860.5 226V302M861.5 228V301M862.5 227V298M863.5 221V299M864.5 270V280M865.5 250V293M866.5 252V292M867.5 204V269M867.5 284V331M868.5 180V232M868.5 310V393M869.5 262V288M871.5 211V318M872.5 180V252M872.5 294V345M873.5 185V260M873.5 289V336M874.5 205V320M875.5 242V294M877.5 224V298M878.5 136V235M878.5 301V349M879.5 116V214M879.5 306V355M880.5 116V195M880.5 304V348M881.5 116V159M881.5 309V353M882.5 133V249M882.5 298V346M883.5 135V315M884.5 116V243M884.5 301V349M885.5 116V157M885.5 321V375M886.5 329V382M887.5 116V163M887.5 306V347M888.5 121V268M888.5 284V322M889.5 313V348M890.5 116V138M890.5 219V227M890.5 290V321M891.5 116V122M891.5 296V328M892.5 303V336M893.5 116V267M893.5 283V316M894.5 240V295M895.5 116V256M895.5 289V323M896.5 303V333M897.5 316V354M898.5 316V355M899.5 266V283M900.5 116V170M900.5 172V240M900.5 292V322M901.5 116V299M902.5 272V280M904.5 260V283M905.5 116V243M905.5 291V323M906.5 150V305M907.5 313V351M908.5 355V427M909.5 328V368M910.5 116V236M910.5 301V338M911.5 331V370M912.5 310V344M913.5 325V360M914.5 304V332M915.5 308V334M916.5 311V337M917.5 292V318M918.5 316V341M919.5 303V329M920.5 307V329M921.5 313V337M922.5 319V346M923.5 320V346M924.5 318V343M925.5 318V339M926.5 313V333M927.5 307V326M928.5 305V324M929.5 321V343M930.5 325V351M931.5 309V326M932.5 318V336M933.5 314V331M934.5 313V330M935.5 331V359M936.5 322V344M937.5 318V340M938.5 327V354M939.5 327V353M940.5 324V349M941.5 323V347M942.5 312V330M943.5 311V329M944.5 294V304M945.5 313V330M946.5 346V378M947.5 330V359M948.5 330V362M949.5 332V363M950.5 319V339M951.5 322V345M952.5 325V350M953.5 314V331M954.5 327V357M955.5 323V345M956.5 354V385M957.5 344V375M958.5 329V357M959.5 326V356M960.5 326V353M961.5 349V379M962.5 330V358M963.5 330V359M964.5 339V368M965.5 364V441M966.5 354V386M967.5 350V379M968.5 333V363M969.5 351V380M970.5 360V393M971.5 314V337M972.5 312V333M973.5 317V343M974.5 354V380M975.5 361V386M976.5 357V382M977.5 341V368M978.5 327V353M979.5 353V379M980.5 387V492M981.5 367V442M982.5 337V363M983.5 322V348M984.5 326V353M985.5 350V374M986.5 366V433M987.5 364V423M988.5 360V385M989.5 357V382M990.5 331V356M991.5 359V385M992.5 354V380M993.5 361V386M994.5 368V445M995.5 371V451M996.5 349V372M997.5 346V371M998.5 375V454M999.5 377V458M1000.5 371V434M1001.5 362V385M1002.5 333V345M1003.5 359V382M1004.5 379V452M1005.5 386V474M1006.5 384V470M1007.5 364V385M1008.5 358V380M1009.5 362V382M1010.5 380V450M1011.5 370V408M1012.5 357V379M1013.5 363V386M1014.5 356V378M1015.5 367V393M1016.5 354V377M1017.5 361V383M1018.5 369V404"/>
<path stroke="#BF0000" d="M583.5 116V180M586.5 116V172M588.5 204V295M595.5 116V244M596.5 116V284M597.5 116V293M598.5 182V295M599.5 116V187M600.5 287V309M601.5 295V317M602.5 171V291M606.5 116V280M608.5 116V188M609.5 116V220M610.5 116V254M611.5 116V198M612.5 201V294M613.5 217V301M614.5 116V285M615.5 178V286M616.5 196V289M617.5 173V281M618.5 116V179M619.5 188V292M620.5 199V299M621.5 194V295M622.5 171V282M623.5 116V146M624.5 177V290M625.5 116V177M626.5 116V180M627.5 190V297M628.5 295V319M629.5 133V299M630.5 153V219M630.5 258V280M631.5 116V159M632.5 190V300M633.5 299V321M634.5 308V330M635.5 198V274M635.5 279V301M636.5 220V230M636.5 289V311M637.5 205V298M638.5 179V295M639.5 204V253M639.5 284V305M640.5 204V249M640.5 284V307M641.5 116V134M642.5 116V145M643.5 176V297M644.5 223V235M644.5 280V303M645.5 286V309M646.5 289V312M647.5 283V307M648.5 287V310M649.5 298V322M650.5 247V305M651.5 208V302M652.5 194V298M653.5 116V200M654.5 279V317M655.5 274V317M656.5 283V317M657.5 298V331M658.5 308V338M659.5 292V323M660.5 222V305M661.5 211V305M662.5 187V286M663.5 202V292M664.5 279V300M665.5 282V302M666.5 116V279M667.5 293V310M668.5 279V296M669.5 283V298M670.5 283V299M671.5 116V287M672.5 189V293M673.5 238V297M674.5 116V213M677.5 116V198M678.5 189V289M679.5 116V177M680.5 189V293M681.5 164V288M682.5 116V202M695.5 116V121M697.5 116V211M700.5 116V176M701.5 116V191M705.5 116V143M706.5 116V180M710.5 198V298M711.5 116V284M712.5 116V156M713.5 150V215M715.5 116V195M716.5 129V208M717.5 171V219M717.5 253V281M718.5 146V208M722.5 149V208M722.5 267V281M723.5 116V182M725.5 116V120M726.5 134V199M727.5 203V295M731.5 143V199M732.5 135V195M733.5 116V165M736.5 116V155M737.5 161V206M738.5 150V207M739.5 166V207M740.5 116V152M867.5 269V284M868.5 232V310M872.5 252V294M873.5 260V289M878.5 235V301M879.5 214V306M880.5 195V304M881.5 159V309M882.5 249V298M884.5 243V301M885.5 157V276M885.5 280V321M886.5 116V256M886.5 291V329M887.5 163V306M888.5 268V284M889.5 116V264M889.5 282V313M890.5 138V219M890.5 227V290M891.5 122V296M892.5 116V303M893.5 267V283M895.5 256V289M896.5 116V303M897.5 116V257M897.5 286V316M898.5 116V266M898.5 284V316M900.5 170V172M900.5 240V292M905.5 243V291M907.5 116V278M907.5 279V313M908.5 319V355M909.5 116V243M909.5 295V328M910.5 236V301M911.5 116V243M911.5 296V331M912.5 116V278M912.5 279V310M913.5 295V325M914.5 116V304M915.5 219V232M915.5 283V308M916.5 287V311M917.5 116V292M918.5 293V316M919.5 116V303M920.5 284V307M921.5 292V313M922.5 298V319M923.5 299V320M924.5 297V318M925.5 300V318M926.5 294V313M927.5 289V307M928.5 289V305M929.5 305V321M930.5 309V325M931.5 294V309M932.5 301V318M933.5 297V314M934.5 296V313M935.5 315V331M936.5 306V322M937.5 301V318M938.5 311V327M939.5 311V327M940.5 308V324M941.5 307V323M942.5 295V312M943.5 295V311M944.5 287V294M945.5 297V313M946.5 323V346M947.5 314V330M948.5 312V330M949.5 315V332M950.5 302V319M951.5 305V322M952.5 309V325M953.5 298V314M954.5 310V327M955.5 307V323M956.5 328V354M957.5 322V344M958.5 311V329M959.5 307V326M960.5 307V326M961.5 324V349M962.5 311V330M963.5 311V330M964.5 317V339M965.5 334V364M966.5 324V354M967.5 324V350M968.5 310V333M969.5 325V351M970.5 333V360M971.5 300V314M972.5 299V312M973.5 301V317M974.5 329V354M975.5 335V361M976.5 332V357M977.5 316V341M978.5 307V327M979.5 327V353M980.5 362V387M981.5 342V367M982.5 313V337M983.5 307V322M984.5 308V326M985.5 325V350M986.5 340V366M987.5 339V364M988.5 335V360M989.5 332V357M990.5 312V331M991.5 332V359M992.5 327V354M993.5 334V361M994.5 342V368M995.5 347V371M996.5 328V349M997.5 325V346M998.5 351V375M999.5 353V377M1000.5 348V371M1001.5 340V362M1002.5 316V333M1003.5 338V359M1004.5 357V379M1005.5 364V386M1006.5 363V384M1007.5 343V364M1008.5 338V358M1009.5 342V362M1010.5 359V380M1011.5 348V370M1012.5 338V357M1013.5 342V363M1014.5 337V356M1015.5 346V367M1016.5 337V354M1017.5 341V361M1018.5 348V369"/>
<path stroke="#7F0000" d="M588.5 116V204M598.5 116V182M600.5 116V287M601.5 116V295M602.5 116V171M612.5 116V201M613.5 116V217M615.5 116V178M616.5 116V196M617.5 116V173M619.5 116V188M620.5 116V199M621.5 116V194M622.5 116V171M624.5 116V177M627.5 116V190M628.5 116V295M629.5 116V133M630.5 116V153M632.5 116V190M633.5 116V299M634.5 116V308M635.5 116V198M635.5 274V279M636.5 116V220M636.5 230V289M637.5 116V205M638.5 116V179M639.5 116V204M639.5 253V284M640.5 116V204M640.5 249V284M643.5 116V176M644.5 116V223M644.5 235V280M645.5 116V286M646.5 116V289M647.5 116V283M648.5 116V287M649.5 116V298M650.5 116V247M651.5 116V208M652.5 116V194M654.5 116V279M655.5 116V274M656.5 116V283M657.5 116V298M658.5 116V308M659.5 116V292M660.5 116V222M661.5 116V211M662.5 116V187M663.5 116V202M664.5 116V279M665.5 116V282M667.5 116V293M668.5 116V279M669.5 116V283M670.5 116V283M672.5 116V189M673.5 116V238M678.5 116V189M680.5 116V189M681.5 116V164M710.5 116V198M713.5 116V150M716.5 116V129M717.5 116V171M718.5 116V146M722.5 116V149M726.5 116V134M727.5 116V203M731.5 116V143M732.5 116V135M737.5 116V161M738.5 116V150M739.5 116V166M885.5 276V280M886.5 256V291M889.5 264V282M897.5 257V286M898.5 266V284M907.5 278V279M908.5 116V319M909.5 243V295M911.5 243V296M912.5 278V279M913.5 116V295M915.5 116V219M915.5 232V283M916.5 116V287M918.5 116V293M920.5 116V284M921.5 116V292M922.5 116V298M923.5 116V299M924.5 116V297M925.5 116V300M926.5 116V294M927.5 116V289M928.5 116V289M929.5 116V305M930.5 116V309M931.5 116V294M932.5 116V301M933.5 116V297M934.5 116V296M935.5 116V315M936.5 116V306M937.5 116V301M938.5 116V311M939.5 116V311M940.5 116V308M941.5 116V307M942.5 116V295M943.5 116V295M944.5 116V287M945.5 116V297M946.5 116V323M947.5 116V314M948.5 116V312M949.5 116V315M950.5 116V302M951.5 116V305M952.5 116V309M953.5 116V298M954.5 116V310M955.5 116V307M956.5 116V328M957.5 116V322M958.5 116V311M959.5 116V307M960.5 116V307M961.5 116V324M962.5 116V311M963.5 116V311M964.5 116V317M965.5 116V334M966.5 116V324M967.5 116V324M968.5 116V310M969.5 116V325M970.5 116V333M971.5 116V300M972.5 116V299M973.5 116V301M974.5 116V329M975.5 116V335M976.5 116V332M977.5 116V316M978.5 116V307M979.5 116V327M980.5 116V362M981.5 116V342M982.5 116V313M983.5 116V307M984.5 116V308M985.5 116V325M986.5 116V340M987.5 116V339M988.5 116V335M989.5 116V332M990.5 116V312M991.5 116V332M992.5 116V327M993.5 116V334M994.5 116V342M995.5 116V347M996.5 116V328M997.5 116V325M998.5 116V351M999.5 116V353M1000.5 116V348M1001.5 116V340M1002.5 116V316M1003.5 116V338M1004.5 116V357M1005.5 116V364M1006.5 116V363M1007.5 116V343M1008.5 116V338M1009.5 116V342M1010.5 116V359M1011.5 116V348M1012.5 116V338M1013.5 116V342M1014.5 116V337M1015.5 116V346M1016.5 116V337M1017.5 116V341M1018.5 116V348"/>
</g>
<g shape-rendering="crispEdges">
<rect x="1031.5" y="726.5" width="24" height="38" fill="#00007F"/>
<rect x="1031.5" y="688.5" width="24" height="38" fill="#0000BF"/>
<rect x="1031.5" y="650.5" width="24" height="38" fill="#0000FF"/>
<rect x="1031.5" y="612.5" width="24" height="38" fill="#003FFF"/>
<rect x="1031.5" y="573.5" width="24" height="39" fill="#007FFF"/>
<rect x="1031.5" y="535.5" width="24" height="38" fill="#00BFFF"/>
<rect x="1031.5" y="497.5" width="24" height="38" fill="#00FFFF"/>
<rect x="1031.5" y="459.5" width="24" height="38" fill="#3FFFBF"/>
<rect x="1031.5" y="421.5" width="24" height="38" fill="#7FFF7F"/>
<rect x="1031.5" y="383.5" width="24" height="38" fill="#BFFF3F"/>
<rect x="1031.5" y="345.5" width="24" height="38" fill="#FFFF00"/>
<rect x="1031.5" y="307.5" width="24" height="38" fill="#FFBF00"/>
<rect x="1031.5" y="268.5" width="24" height="39" fill="#FF7F00"/>
<rect x="1031.5" y="230.5" width="24" height="38" fill="#FF3F00"/>
<rect x="1031.5" y="192.5" width="24" height="38" fill="#FF0000"/>
<rect x="1031.5" y="154.5" width="24" height="38" fill="#BF0000"/>
<rect x="1031.5" y="116.5" width="24" height="38" fill="#7F0000"/>
</g>
<g fill="none" stroke="#000" stroke-width="1">
<path d="M1031.5 726.5H1055.5"/>
<path d="M1031.5 688.5H1055.5"/>
<path d="M1031.5 650.5H1055.5"/>
<path d="M1031.5 612.5H1055.5"/>
<path d="M1031.5 573.5H1055.5"/>
<path d="M1031.5 535.5H1055.5"/>
<path d="M1031.5 497.5H1055.5"/>
<path d="M1031.5 459.5H1055.5"/>
<path d="M1031.5 421.5H1055.5"/>
<path d="M1031.5 383.5H1055.5"/>
<path d="M1031.5 345.5H1055.5"/>
<path d="M1031.5 307.5H1055.5"/>
<path d="M1031.5 268.5H1055.5"/>
<path d="M1031.5 230.5H1055.5"/>
<path d="M1031.5 192.5H1055.5"/>
<path d="M1031.5 154.5H1055.5"/>
<rect x="1031.5" y="116.5" width="24" height="648"/>
<path d="M1055.5 726.5H1064"/>
<path d="M1055.5 573.5H1064"/>
<path d="M1055.5 421.5H1064"/>
<path d="M1055.5 268.5H1064"/>
<path d="M1055.5 116.5H1064"/>
<path d="M179.5 116V765"/>
<path d="M172 764.50H180"/>
<path d="M172 656.50H180"/>
<path d="M172 548.50H180"/>
<path d="M172 440.50H180"/>
<path d="M172 332.50H180"/>
<path d="M172 224.50H180"/>
<path d="M172 116.50H180"/>
<path d="M179 764.5H991"/>
<path d="M179.5 764V781.5"/>
<path d="M214.5 764V781.5"/>
<path d="M250.5 764V781.5"/>
<path d="M285.5 764V781.5"/>
<path d="M320.5 764V781.5"/>
<path d="M355.5 764V781.5"/>
<path d="M391.5 764V781.5"/>
<path d="M426.5 764V781.5"/>
<path d="M461.5 764V781.5"/>
<path d="M496.5 764V781.5"/>
<path d="M532.5 764V781.5"/>
<path d="M567.5 764V781.5"/>
<path d="M602.5 764V781.5"/>
<path d="M638.5 764V781.5"/>
<path d="M673.5 764V781.5"/>
<path d="M708.5 764V781.5"/>
<path d="M743.5 764V781.5"/>
<path d="M779.5 764V781.5"/>
<path d="M814.5 764V781.5"/>
<path d="M849.5 764V781.5"/>
<path d="M884.5 764V781.5"/>
<path d="M920.5 764V781.5"/>
<path d="M955.5 764V781.5"/>
<path d="M990.5 764V781.5"/>
<path d="M1031 0.5H1056"/>
</g>
<g>
<text transform="translate(1071.30 733.50) scale(1.050 1)" font-size="16.67">20</text>
<text transform="translate(1071.30 580.50) scale(1.050 1)" font-size="16.67">40</text>
<text transform="translate(1071.30 428.50) scale(1.050 1)" font-size="16.67">60</text>
<text transform="translate(1071.30 275.50) scale(1.050 1)" font-size="16.67">80</text>
<text transform="translate(1071.30 123.50) scale(1.050 1)" font-size="16.67">100</text>
<text transform="translate(164.30 771.50) scale(1.060 1)" font-size="16.67" text-anchor="end">0.0</text>
<text transform="translate(164.30 663.50) scale(1.060 1)" font-size="16.67" text-anchor="end">0.5</text>
<text transform="translate(164.30 555.50) scale(1.060 1)" font-size="16.67" text-anchor="end">1.0</text>
<text transform="translate(164.30 447.50) scale(1.060 1)" font-size="16.67" text-anchor="end">1.5</text>
<text transform="translate(164.30 339.50) scale(1.060 1)" font-size="16.67" text-anchor="end">2.0</text>
<text transform="translate(164.30 231.50) scale(1.060 1)" font-size="16.67" text-anchor="end">2.5</text>
<text transform="translate(164.30 123.50) scale(1.060 1)" font-size="16.67" text-anchor="end">3.0</text>
<text transform="translate(179.50 791.00)" font-size="12" text-anchor="middle">00</text>
<text transform="translate(214.50 791.00)" font-size="12" text-anchor="middle">01</text>
<text transform="translate(250.50 791.00)" font-size="12" text-anchor="middle">02</text>
<text transform="translate(285.50 791.00)" font-size="12" text-anchor="middle">03</text>
<text transform="translate(320.50 791.00)" font-size="12" text-anchor="middle">04</text>
<text transform="translate(355.50 791.00)" font-size="12" text-anchor="middle">05</text>
<text transform="translate(391.50 791.00)" font-size="12" text-anchor="middle">06</text>
<text transform="translate(426.50 791.00)" font-size="12" text-anchor="middle">07</text>
<text transform="translate(461.50 791.00)" font-size="12" text-anchor="middle">08</text>
<text transform="translate(496.50 791.00)" font-size="12" text-anchor="middle">09</text>
<text transform="translate(532.50 791.00)" font-size="12" text-anchor="middle">10</text>
<text transform="translate(567.50 791.00)" font-size="12" text-anchor="middle">11</text>
<text transform="translate(602.50 791.00)" font-size="12" text-anchor="middle">12</text>
<text transform="translate(638.50 791.00)" font-size="12" text-anchor="middle">13</text>
<text transform="translate(673.50 791.00)" font-size="12" text-anchor="middle">14</text>
<text transform="translate(708.50 791.00)" font-size="12" text-anchor="middle">15</text>
<text transform="translate(743.50 791.00)" font-size="12" text-anchor="middle">16</text>
<text transform="translate(779.50 791.00)" font-size="12" text-anchor="middle">17</text>
<text transform="translate(814.50 791.00)" font-size="12" text-anchor="middle">18</text>
<text transform="translate(849.50 791.00)" font-size="12" text-anchor="middle">19</text>
<text transform="translate(884.50 791.00)" font-size="12" text-anchor="middle">20</text>
<text transform="translate(920.50 791.00)" font-size="12" text-anchor="middle">21</text>
<text transform="translate(955.50 791.00)" font-size="12" text-anchor="middle">22</text>
<text transform="translate(990.50 791.00)" font-size="12" text-anchor="middle">23</text>
<text transform="translate(598.80 92.70) scale(1.115 1)" font-size="13" text-anchor="middle" font-weight="bold">Relative Humidity (%)</text>
<text transform="translate(598.70 828.70) scale(1.090 1)" font-size="16.67" text-anchor="middle">Hours (UTC)</text>
<text transform="translate(87.30 548.30) rotate(-90) scale(1.070 1)" font-size="16.67" text-anchor="middle">Height (km)</text>
</g>
</svg>
</body></html>
